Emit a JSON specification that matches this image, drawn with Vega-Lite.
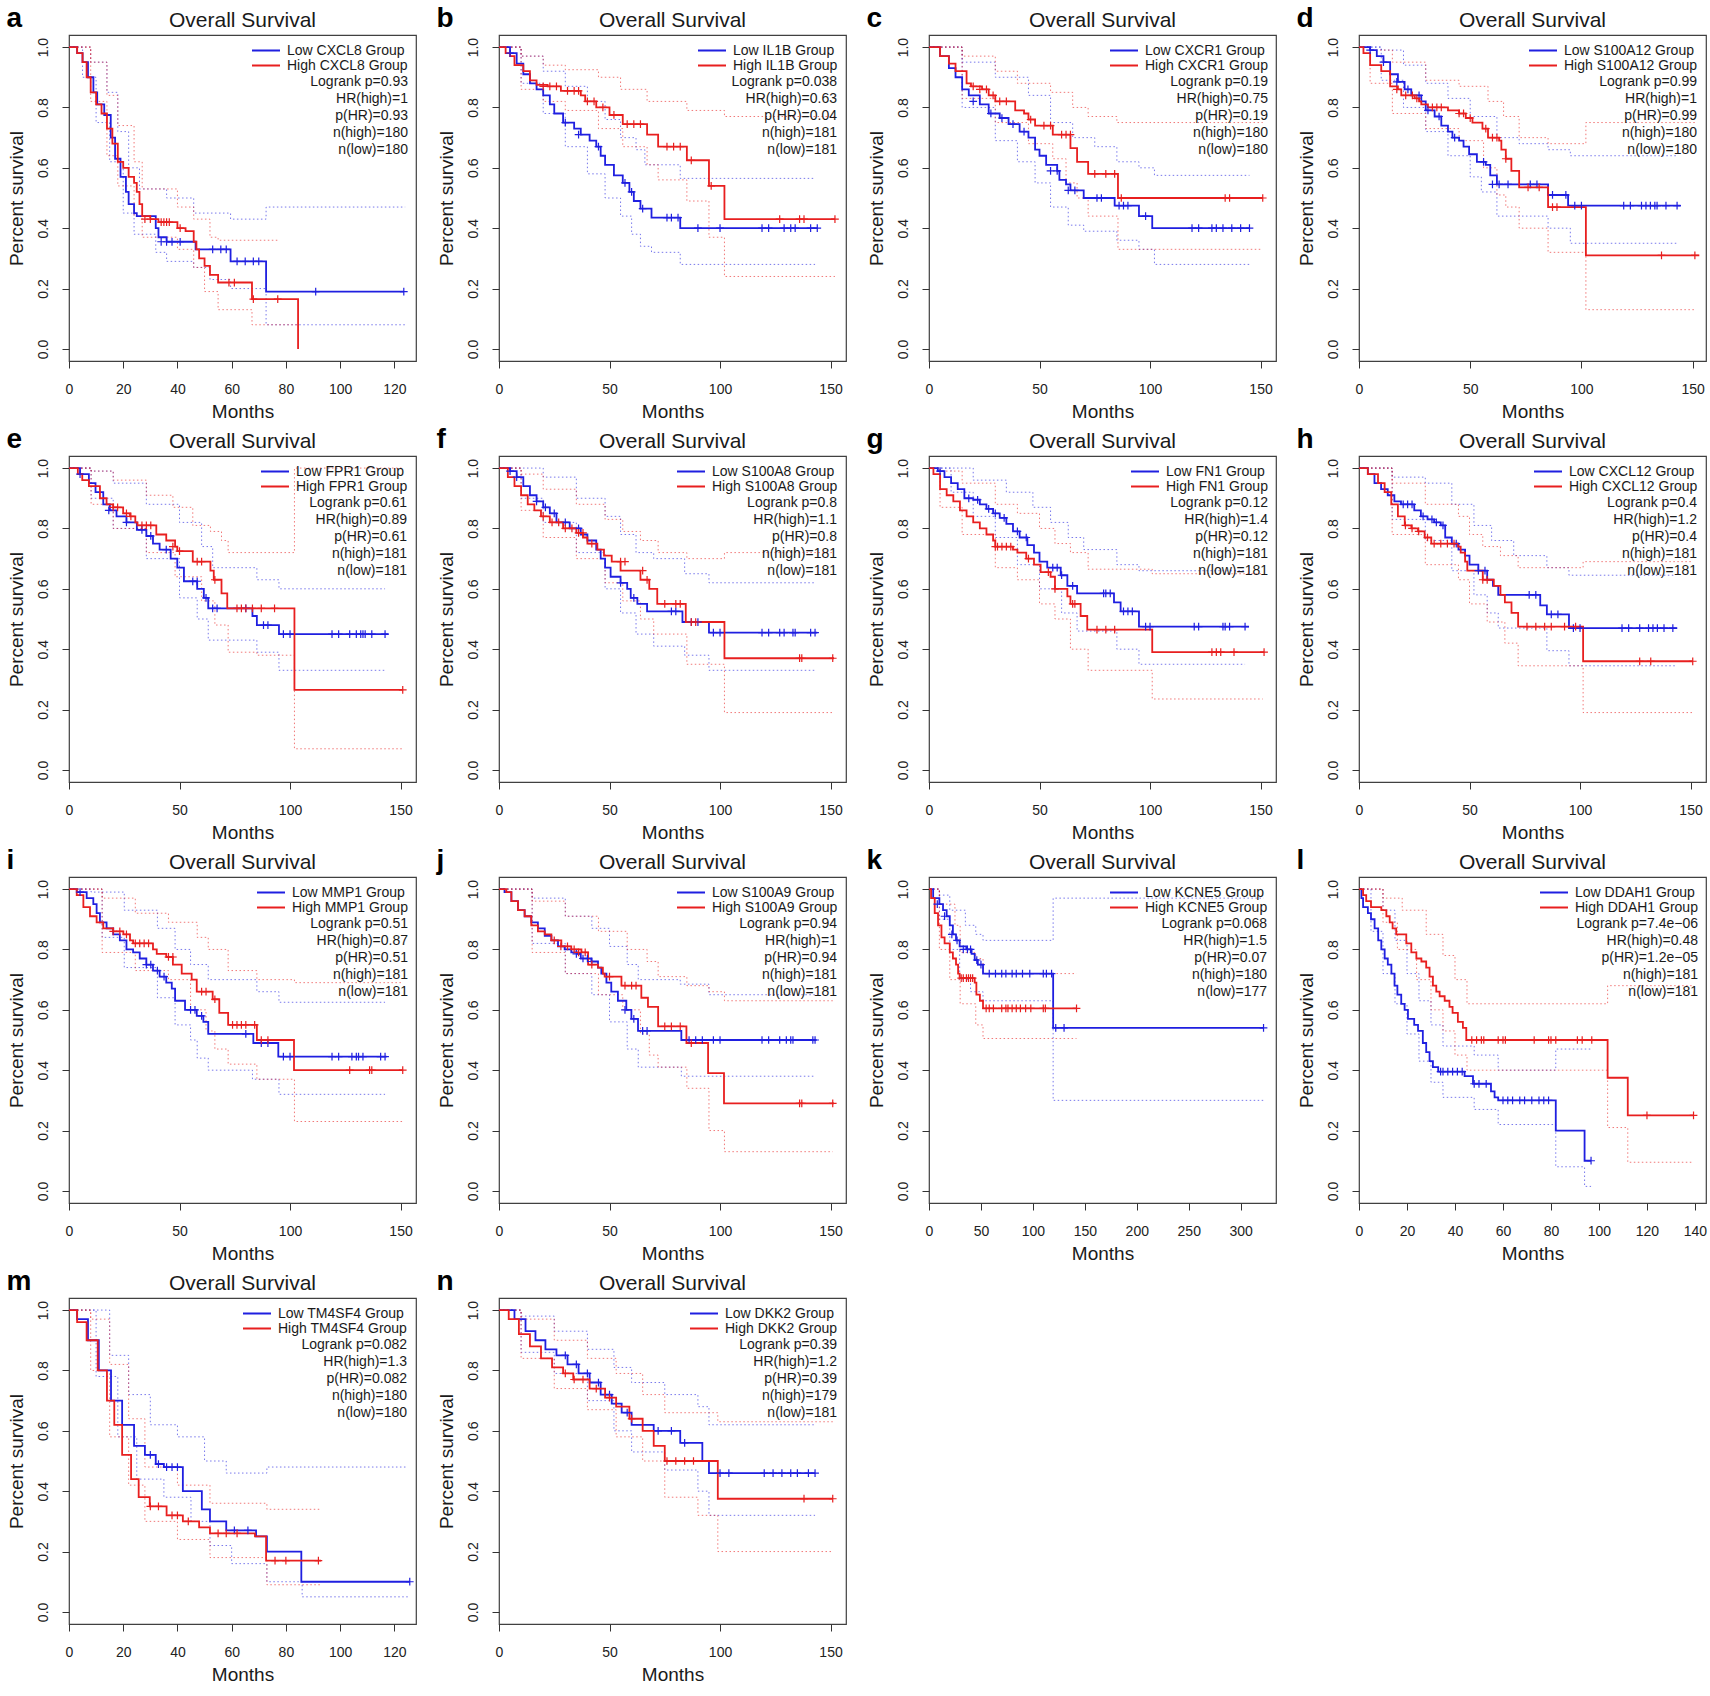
{
"$schema":"https://vega.github.io/schema/vega-lite/v6.json",
"padding":{"left":6,"top":5,"right":0,"bottom":0},
"background":"white",
"datasets":{
"a":[
{"g":"L","k":"m","t":0,"v":1},{"g":"L","k":"m","t":3,"v":0.98},{"g":"L","k":"m","t":5,"v":0.95},{"g":"L","k":"m","t":7,"v":0.9},{"g":"L","k":"m","t":9,"v":0.85},{"g":"L","k":"m","t":10.4,"v":0.81},{"g":"L","k":"m","t":13,"v":0.775},{"g":"L","k":"m","t":15.4,"v":0.7},{"g":"L","k":"m","t":17,"v":0.63},{"g":"L","k":"m","t":19,"v":0.57},{"g":"L","k":"m","t":21,"v":0.52},{"g":"L","k":"m","t":22,"v":0.48},{"g":"L","k":"m","t":24,"v":0.45},{"g":"L","k":"m","t":25,"v":0.44},{"g":"L","k":"m","t":32,"v":0.4},{"g":"L","k":"m","t":33,"v":0.37},{"g":"L","k":"m","t":36,"v":0.355},{"g":"L","k":"m","t":46.7,"v":0.33},{"g":"L","k":"m","t":59.6,"v":0.29},{"g":"L","k":"m","t":72.7,"v":0.19},{"g":"L","k":"m","t":123.5,"v":0.19},
{"g":"H","k":"m","t":0,"v":1},{"g":"H","k":"m","t":3,"v":0.98},{"g":"H","k":"m","t":5,"v":0.95},{"g":"H","k":"m","t":6.5,"v":0.9},{"g":"H","k":"m","t":8,"v":0.85},{"g":"H","k":"m","t":10,"v":0.81},{"g":"H","k":"m","t":12,"v":0.78},{"g":"H","k":"m","t":14,"v":0.73},{"g":"H","k":"m","t":16,"v":0.68},{"g":"H","k":"m","t":18,"v":0.62},{"g":"H","k":"m","t":20,"v":0.6},{"g":"H","k":"m","t":22,"v":0.57},{"g":"H","k":"m","t":24,"v":0.55},{"g":"H","k":"m","t":25,"v":0.52},{"g":"H","k":"m","t":26,"v":0.48},{"g":"H","k":"m","t":27,"v":0.44},{"g":"H","k":"m","t":30,"v":0.43},{"g":"H","k":"m","t":33,"v":0.42},{"g":"H","k":"m","t":40,"v":0.4},{"g":"H","k":"m","t":43,"v":0.39},{"g":"H","k":"m","t":46,"v":0.355},{"g":"H","k":"m","t":47,"v":0.33},{"g":"H","k":"m","t":48,"v":0.3},{"g":"H","k":"m","t":50,"v":0.275},{"g":"H","k":"m","t":52,"v":0.245},{"g":"H","k":"m","t":55,"v":0.22},{"g":"H","k":"m","t":67.5,"v":0.165},{"g":"H","k":"m","t":84.5,"v":0},
{"g":"L","k":"u","t":0,"v":1},{"g":"L","k":"u","t":8,"v":0.95},{"g":"L","k":"u","t":14,"v":0.85},{"g":"L","k":"u","t":18,"v":0.72},{"g":"L","k":"u","t":22,"v":0.6},{"g":"L","k":"u","t":26,"v":0.53},{"g":"L","k":"u","t":36,"v":0.5},{"g":"L","k":"u","t":46,"v":0.45},{"g":"L","k":"u","t":59.6,"v":0.43},{"g":"L","k":"u","t":72.7,"v":0.47},{"g":"L","k":"u","t":124,"v":0.47},
{"g":"L","k":"l","t":0,"v":1},{"g":"L","k":"l","t":5,"v":0.9},{"g":"L","k":"l","t":10,"v":0.75},{"g":"L","k":"l","t":15,"v":0.62},{"g":"L","k":"l","t":20,"v":0.45},{"g":"L","k":"l","t":24,"v":0.38},{"g":"L","k":"l","t":32,"v":0.32},{"g":"L","k":"l","t":36,"v":0.29},{"g":"L","k":"l","t":46,"v":0.27},{"g":"L","k":"l","t":52,"v":0.23},{"g":"L","k":"l","t":59.6,"v":0.2},{"g":"L","k":"l","t":72.7,"v":0.08},{"g":"L","k":"l","t":124,"v":0.08},
{"g":"H","k":"u","t":0,"v":1},{"g":"H","k":"u","t":8,"v":0.95},{"g":"H","k":"u","t":14,"v":0.84},{"g":"H","k":"u","t":18,"v":0.74},{"g":"H","k":"u","t":24,"v":0.62},{"g":"H","k":"u","t":27,"v":0.53},{"g":"H","k":"u","t":40,"v":0.47},{"g":"H","k":"u","t":46,"v":0.43},{"g":"H","k":"u","t":52,"v":0.37},{"g":"H","k":"u","t":55,"v":0.36},{"g":"H","k":"u","t":77,"v":0.36},
{"g":"H","k":"l","t":0,"v":1},{"g":"H","k":"l","t":8,"v":0.82},{"g":"H","k":"l","t":14,"v":0.64},{"g":"H","k":"l","t":18,"v":0.54},{"g":"H","k":"l","t":24,"v":0.44},{"g":"H","k":"l","t":27,"v":0.37},{"g":"H","k":"l","t":40,"v":0.33},{"g":"H","k":"l","t":46,"v":0.27},{"g":"H","k":"l","t":50,"v":0.19},{"g":"H","k":"l","t":55,"v":0.13},{"g":"H","k":"l","t":67.5,"v":0.08},{"g":"H","k":"l","t":84.5,"v":0.08},
{"g":"L","k":"c","t":34,"v":0.355},{"g":"L","k":"c","t":36,"v":0.355},{"g":"L","k":"c","t":38,"v":0.355},{"g":"L","k":"c","t":41,"v":0.355},{"g":"L","k":"c","t":53,"v":0.33},{"g":"L","k":"c","t":56,"v":0.33},{"g":"L","k":"c","t":58,"v":0.33},{"g":"L","k":"c","t":62,"v":0.29},{"g":"L","k":"c","t":65,"v":0.29},{"g":"L","k":"c","t":68,"v":0.29},{"g":"L","k":"c","t":70,"v":0.29},{"g":"L","k":"c","t":91,"v":0.19},{"g":"L","k":"c","t":123.5,"v":0.19},
{"g":"H","k":"c","t":28,"v":0.43},{"g":"H","k":"c","t":30,"v":0.43},{"g":"H","k":"c","t":34,"v":0.42},{"g":"H","k":"c","t":35,"v":0.42},{"g":"H","k":"c","t":36,"v":0.42},{"g":"H","k":"c","t":37,"v":0.42},{"g":"H","k":"c","t":41,"v":0.4},{"g":"H","k":"c","t":59,"v":0.22},{"g":"H","k":"c","t":61,"v":0.22},{"g":"H","k":"c","t":68,"v":0.165},{"g":"H","k":"c","t":77,"v":0.165}
],
"b":[
{"g":"L","k":"m","t":0,"v":1},{"g":"L","k":"m","t":5,"v":0.98},{"g":"L","k":"m","t":8,"v":0.945},{"g":"L","k":"m","t":11,"v":0.91},{"g":"L","k":"m","t":14,"v":0.88},{"g":"L","k":"m","t":17,"v":0.86},{"g":"L","k":"m","t":20,"v":0.84},{"g":"L","k":"m","t":23,"v":0.81},{"g":"L","k":"m","t":25,"v":0.78},{"g":"L","k":"m","t":29,"v":0.75},{"g":"L","k":"m","t":34,"v":0.73},{"g":"L","k":"m","t":37,"v":0.71},{"g":"L","k":"m","t":41,"v":0.69},{"g":"L","k":"m","t":44,"v":0.67},{"g":"L","k":"m","t":46,"v":0.64},{"g":"L","k":"m","t":48,"v":0.61},{"g":"L","k":"m","t":52,"v":0.575},{"g":"L","k":"m","t":56,"v":0.55},{"g":"L","k":"m","t":59,"v":0.52},{"g":"L","k":"m","t":61,"v":0.49},{"g":"L","k":"m","t":64,"v":0.465},{"g":"L","k":"m","t":69,"v":0.435},{"g":"L","k":"m","t":82,"v":0.4},{"g":"L","k":"m","t":144,"v":0.4},
{"g":"H","k":"m","t":0,"v":1},{"g":"H","k":"m","t":3,"v":0.98},{"g":"H","k":"m","t":5,"v":0.97},{"g":"H","k":"m","t":7,"v":0.94},{"g":"H","k":"m","t":11,"v":0.92},{"g":"H","k":"m","t":14,"v":0.89},{"g":"H","k":"m","t":17,"v":0.875},{"g":"H","k":"m","t":22,"v":0.87},{"g":"H","k":"m","t":28,"v":0.855},{"g":"H","k":"m","t":37,"v":0.84},{"g":"H","k":"m","t":39,"v":0.82},{"g":"H","k":"m","t":44,"v":0.8},{"g":"H","k":"m","t":50,"v":0.775},{"g":"H","k":"m","t":56,"v":0.745},{"g":"H","k":"m","t":67,"v":0.71},{"g":"H","k":"m","t":72,"v":0.67},{"g":"H","k":"m","t":85,"v":0.625},{"g":"H","k":"m","t":95,"v":0.54},{"g":"H","k":"m","t":102,"v":0.43},{"g":"H","k":"m","t":152,"v":0.43},
{"g":"L","k":"u","t":0,"v":1},{"g":"L","k":"u","t":10,"v":0.97},{"g":"L","k":"u","t":20,"v":0.92},{"g":"L","k":"u","t":30,"v":0.87},{"g":"L","k":"u","t":40,"v":0.82},{"g":"L","k":"u","t":48,"v":0.76},{"g":"L","k":"u","t":55,"v":0.7},{"g":"L","k":"u","t":62,"v":0.66},{"g":"L","k":"u","t":66,"v":0.61},{"g":"L","k":"u","t":82,"v":0.565},{"g":"L","k":"u","t":143,"v":0.565},
{"g":"L","k":"l","t":0,"v":1},{"g":"L","k":"l","t":10,"v":0.88},{"g":"L","k":"l","t":20,"v":0.78},{"g":"L","k":"l","t":30,"v":0.67},{"g":"L","k":"l","t":40,"v":0.58},{"g":"L","k":"l","t":48,"v":0.5},{"g":"L","k":"l","t":55,"v":0.44},{"g":"L","k":"l","t":60,"v":0.38},{"g":"L","k":"l","t":64,"v":0.34},{"g":"L","k":"l","t":69,"v":0.32},{"g":"L","k":"l","t":82,"v":0.28},{"g":"L","k":"l","t":143,"v":0.28},
{"g":"H","k":"u","t":0,"v":1},{"g":"H","k":"u","t":10,"v":0.97},{"g":"H","k":"u","t":20,"v":0.94},{"g":"H","k":"u","t":30,"v":0.925},{"g":"H","k":"u","t":45,"v":0.9},{"g":"H","k":"u","t":55,"v":0.86},{"g":"H","k":"u","t":67,"v":0.82},{"g":"H","k":"u","t":85,"v":0.79},{"g":"H","k":"u","t":102,"v":0.77},{"g":"H","k":"u","t":152,"v":0.77},
{"g":"H","k":"l","t":0,"v":1},{"g":"H","k":"l","t":10,"v":0.86},{"g":"H","k":"l","t":20,"v":0.82},{"g":"H","k":"l","t":30,"v":0.79},{"g":"H","k":"l","t":45,"v":0.73},{"g":"H","k":"l","t":56,"v":0.67},{"g":"H","k":"l","t":67,"v":0.61},{"g":"H","k":"l","t":72,"v":0.56},{"g":"H","k":"l","t":85,"v":0.49},{"g":"H","k":"l","t":95,"v":0.37},{"g":"H","k":"l","t":102,"v":0.24},{"g":"H","k":"l","t":152,"v":0.24},
{"g":"L","k":"c","t":5,"v":0.98},{"g":"L","k":"c","t":30,"v":0.75},{"g":"L","k":"c","t":36,"v":0.71},{"g":"L","k":"c","t":45,"v":0.67},{"g":"L","k":"c","t":57,"v":0.55},{"g":"L","k":"c","t":60,"v":0.52},{"g":"L","k":"c","t":65,"v":0.465},{"g":"L","k":"c","t":76,"v":0.435},{"g":"L","k":"c","t":78,"v":0.435},{"g":"L","k":"c","t":81,"v":0.435},{"g":"L","k":"c","t":90,"v":0.4},{"g":"L","k":"c","t":100,"v":0.4},{"g":"L","k":"c","t":119,"v":0.4},{"g":"L","k":"c","t":122,"v":0.4},{"g":"L","k":"c","t":129,"v":0.4},{"g":"L","k":"c","t":132,"v":0.4},{"g":"L","k":"c","t":134,"v":0.4},{"g":"L","k":"c","t":141,"v":0.4},{"g":"L","k":"c","t":144,"v":0.4},
{"g":"H","k":"c","t":20,"v":0.87},{"g":"H","k":"c","t":23,"v":0.87},{"g":"H","k":"c","t":26,"v":0.87},{"g":"H","k":"c","t":31,"v":0.855},{"g":"H","k":"c","t":34,"v":0.855},{"g":"H","k":"c","t":36,"v":0.855},{"g":"H","k":"c","t":40,"v":0.82},{"g":"H","k":"c","t":43,"v":0.82},{"g":"H","k":"c","t":47,"v":0.8},{"g":"H","k":"c","t":52,"v":0.775},{"g":"H","k":"c","t":58,"v":0.745},{"g":"H","k":"c","t":61,"v":0.745},{"g":"H","k":"c","t":64,"v":0.745},{"g":"H","k":"c","t":76,"v":0.67},{"g":"H","k":"c","t":79,"v":0.67},{"g":"H","k":"c","t":82,"v":0.67},{"g":"H","k":"c","t":87,"v":0.625},{"g":"H","k":"c","t":96,"v":0.54},{"g":"H","k":"c","t":127,"v":0.43},{"g":"H","k":"c","t":136,"v":0.43},{"g":"H","k":"c","t":138,"v":0.43},{"g":"H","k":"c","t":152,"v":0.43}
],
"c":[
{"g":"L","k":"m","t":0,"v":1},{"g":"L","k":"m","t":5,"v":0.97},{"g":"L","k":"m","t":9,"v":0.93},{"g":"L","k":"m","t":12,"v":0.9},{"g":"L","k":"m","t":15,"v":0.86},{"g":"L","k":"m","t":18,"v":0.84},{"g":"L","k":"m","t":23,"v":0.81},{"g":"L","k":"m","t":27,"v":0.78},{"g":"L","k":"m","t":32,"v":0.765},{"g":"L","k":"m","t":36,"v":0.745},{"g":"L","k":"m","t":41,"v":0.72},{"g":"L","k":"m","t":45,"v":0.7},{"g":"L","k":"m","t":48,"v":0.66},{"g":"L","k":"m","t":50,"v":0.64},{"g":"L","k":"m","t":53,"v":0.61},{"g":"L","k":"m","t":58,"v":0.59},{"g":"L","k":"m","t":59,"v":0.56},{"g":"L","k":"m","t":62,"v":0.545},{"g":"L","k":"m","t":64,"v":0.525},{"g":"L","k":"m","t":70,"v":0.5},{"g":"L","k":"m","t":84,"v":0.475},{"g":"L","k":"m","t":95,"v":0.44},{"g":"L","k":"m","t":101,"v":0.4},{"g":"L","k":"m","t":145,"v":0.4},
{"g":"H","k":"m","t":0,"v":1},{"g":"H","k":"m","t":5,"v":0.97},{"g":"H","k":"m","t":9,"v":0.945},{"g":"H","k":"m","t":12,"v":0.92},{"g":"H","k":"m","t":17,"v":0.88},{"g":"H","k":"m","t":19,"v":0.87},{"g":"H","k":"m","t":24,"v":0.86},{"g":"H","k":"m","t":27,"v":0.84},{"g":"H","k":"m","t":30,"v":0.82},{"g":"H","k":"m","t":39,"v":0.79},{"g":"H","k":"m","t":43,"v":0.78},{"g":"H","k":"m","t":45,"v":0.76},{"g":"H","k":"m","t":48,"v":0.74},{"g":"H","k":"m","t":56,"v":0.71},{"g":"H","k":"m","t":64,"v":0.665},{"g":"H","k":"m","t":67,"v":0.62},{"g":"H","k":"m","t":72,"v":0.58},{"g":"H","k":"m","t":85.5,"v":0.5},{"g":"H","k":"m","t":151,"v":0.5},
{"g":"L","k":"u","t":0,"v":1},{"g":"L","k":"u","t":15,"v":0.95},{"g":"L","k":"u","t":30,"v":0.9},{"g":"L","k":"u","t":45,"v":0.84},{"g":"L","k":"u","t":55,"v":0.75},{"g":"L","k":"u","t":65,"v":0.7},{"g":"L","k":"u","t":75,"v":0.67},{"g":"L","k":"u","t":85,"v":0.62},{"g":"L","k":"u","t":95,"v":0.6},{"g":"L","k":"u","t":102,"v":0.575},{"g":"L","k":"u","t":145,"v":0.575},
{"g":"L","k":"l","t":0,"v":1},{"g":"L","k":"l","t":15,"v":0.8},{"g":"L","k":"l","t":30,"v":0.69},{"g":"L","k":"l","t":40,"v":0.62},{"g":"L","k":"l","t":48,"v":0.55},{"g":"L","k":"l","t":55,"v":0.47},{"g":"L","k":"l","t":63,"v":0.41},{"g":"L","k":"l","t":70,"v":0.39},{"g":"L","k":"l","t":85,"v":0.36},{"g":"L","k":"l","t":95,"v":0.33},{"g":"L","k":"l","t":102,"v":0.28},{"g":"L","k":"l","t":145,"v":0.28},
{"g":"H","k":"u","t":0,"v":1},{"g":"H","k":"u","t":15,"v":0.97},{"g":"H","k":"u","t":30,"v":0.92},{"g":"H","k":"u","t":40,"v":0.88},{"g":"H","k":"u","t":55,"v":0.85},{"g":"H","k":"u","t":65,"v":0.8},{"g":"H","k":"u","t":72,"v":0.77},{"g":"H","k":"u","t":85,"v":0.75},{"g":"H","k":"u","t":151,"v":0.75},
{"g":"H","k":"l","t":0,"v":1},{"g":"H","k":"l","t":15,"v":0.83},{"g":"H","k":"l","t":30,"v":0.75},{"g":"H","k":"l","t":45,"v":0.68},{"g":"H","k":"l","t":56,"v":0.63},{"g":"H","k":"l","t":62,"v":0.55},{"g":"H","k":"l","t":67,"v":0.5},{"g":"H","k":"l","t":72,"v":0.44},{"g":"H","k":"l","t":85.5,"v":0.33},{"g":"H","k":"l","t":151,"v":0.33},
{"g":"L","k":"c","t":20,"v":0.82},{"g":"L","k":"c","t":28,"v":0.78},{"g":"L","k":"c","t":33,"v":0.765},{"g":"L","k":"c","t":38,"v":0.745},{"g":"L","k":"c","t":43,"v":0.72},{"g":"L","k":"c","t":55,"v":0.59},{"g":"L","k":"c","t":58,"v":0.59},{"g":"L","k":"c","t":63,"v":0.525},{"g":"L","k":"c","t":66,"v":0.525},{"g":"L","k":"c","t":76,"v":0.5},{"g":"L","k":"c","t":78,"v":0.5},{"g":"L","k":"c","t":86,"v":0.475},{"g":"L","k":"c","t":88,"v":0.475},{"g":"L","k":"c","t":90,"v":0.475},{"g":"L","k":"c","t":98,"v":0.44},{"g":"L","k":"c","t":119,"v":0.4},{"g":"L","k":"c","t":122,"v":0.4},{"g":"L","k":"c","t":128,"v":0.4},{"g":"L","k":"c","t":130,"v":0.4},{"g":"L","k":"c","t":133,"v":0.4},{"g":"L","k":"c","t":137,"v":0.4},{"g":"L","k":"c","t":141,"v":0.4},{"g":"L","k":"c","t":145,"v":0.4},
{"g":"H","k":"c","t":20,"v":0.87},{"g":"H","k":"c","t":23,"v":0.86},{"g":"H","k":"c","t":26,"v":0.86},{"g":"H","k":"c","t":29,"v":0.84},{"g":"H","k":"c","t":32,"v":0.82},{"g":"H","k":"c","t":35,"v":0.82},{"g":"H","k":"c","t":46,"v":0.76},{"g":"H","k":"c","t":52,"v":0.74},{"g":"H","k":"c","t":55,"v":0.74},{"g":"H","k":"c","t":60,"v":0.71},{"g":"H","k":"c","t":62,"v":0.71},{"g":"H","k":"c","t":64,"v":0.71},{"g":"H","k":"c","t":75,"v":0.58},{"g":"H","k":"c","t":80,"v":0.58},{"g":"H","k":"c","t":84,"v":0.58},{"g":"H","k":"c","t":87,"v":0.5},{"g":"H","k":"c","t":134,"v":0.5},{"g":"H","k":"c","t":136,"v":0.5},{"g":"H","k":"c","t":151,"v":0.5}
],
"d":[
{"g":"L","k":"m","t":0,"v":1},{"g":"L","k":"m","t":5,"v":0.99},{"g":"L","k":"m","t":8,"v":0.97},{"g":"L","k":"m","t":11,"v":0.95},{"g":"L","k":"m","t":14,"v":0.91},{"g":"L","k":"m","t":17.5,"v":0.885},{"g":"L","k":"m","t":20.5,"v":0.86},{"g":"L","k":"m","t":23.5,"v":0.84},{"g":"L","k":"m","t":28,"v":0.82},{"g":"L","k":"m","t":30,"v":0.79},{"g":"L","k":"m","t":34,"v":0.77},{"g":"L","k":"m","t":37,"v":0.74},{"g":"L","k":"m","t":40,"v":0.72},{"g":"L","k":"m","t":42,"v":0.7},{"g":"L","k":"m","t":45,"v":0.69},{"g":"L","k":"m","t":47,"v":0.67},{"g":"L","k":"m","t":49.5,"v":0.645},{"g":"L","k":"m","t":53,"v":0.62},{"g":"L","k":"m","t":57,"v":0.61},{"g":"L","k":"m","t":59,"v":0.575},{"g":"L","k":"m","t":62,"v":0.545},{"g":"L","k":"m","t":85,"v":0.51},{"g":"L","k":"m","t":94,"v":0.475},{"g":"L","k":"m","t":144.6,"v":0.475},
{"g":"H","k":"m","t":0,"v":1},{"g":"H","k":"m","t":2,"v":0.98},{"g":"H","k":"m","t":5,"v":0.94},{"g":"H","k":"m","t":10,"v":0.92},{"g":"H","k":"m","t":14,"v":0.87},{"g":"H","k":"m","t":17.5,"v":0.86},{"g":"H","k":"m","t":19,"v":0.84},{"g":"H","k":"m","t":25,"v":0.83},{"g":"H","k":"m","t":27,"v":0.82},{"g":"H","k":"m","t":28,"v":0.81},{"g":"H","k":"m","t":31,"v":0.8},{"g":"H","k":"m","t":40,"v":0.79},{"g":"H","k":"m","t":45,"v":0.78},{"g":"H","k":"m","t":48,"v":0.765},{"g":"H","k":"m","t":51,"v":0.75},{"g":"H","k":"m","t":55.5,"v":0.73},{"g":"H","k":"m","t":58,"v":0.7},{"g":"H","k":"m","t":63,"v":0.69},{"g":"H","k":"m","t":64,"v":0.66},{"g":"H","k":"m","t":66,"v":0.63},{"g":"H","k":"m","t":68.5,"v":0.59},{"g":"H","k":"m","t":72,"v":0.535},{"g":"H","k":"m","t":85,"v":0.47},{"g":"H","k":"m","t":102,"v":0.31},{"g":"H","k":"m","t":153,"v":0.31},
{"g":"L","k":"u","t":0,"v":1},{"g":"L","k":"u","t":10,"v":0.99},{"g":"L","k":"u","t":20,"v":0.94},{"g":"L","k":"u","t":30,"v":0.88},{"g":"L","k":"u","t":40,"v":0.83},{"g":"L","k":"u","t":50,"v":0.77},{"g":"L","k":"u","t":62,"v":0.7},{"g":"L","k":"u","t":72,"v":0.68},{"g":"L","k":"u","t":85,"v":0.66},{"g":"L","k":"u","t":95,"v":0.64},{"g":"L","k":"u","t":143,"v":0.64},
{"g":"L","k":"l","t":0,"v":1},{"g":"L","k":"l","t":10,"v":0.89},{"g":"L","k":"l","t":20,"v":0.8},{"g":"L","k":"l","t":30,"v":0.72},{"g":"L","k":"l","t":40,"v":0.64},{"g":"L","k":"l","t":50,"v":0.57},{"g":"L","k":"l","t":55,"v":0.52},{"g":"L","k":"l","t":62,"v":0.44},{"g":"L","k":"l","t":85,"v":0.4},{"g":"L","k":"l","t":95,"v":0.35},{"g":"L","k":"l","t":143,"v":0.35},
{"g":"H","k":"u","t":0,"v":1},{"g":"H","k":"u","t":5,"v":0.99},{"g":"H","k":"u","t":15,"v":0.95},{"g":"H","k":"u","t":30,"v":0.89},{"g":"H","k":"u","t":45,"v":0.87},{"g":"H","k":"u","t":58,"v":0.82},{"g":"H","k":"u","t":65,"v":0.77},{"g":"H","k":"u","t":72,"v":0.7},{"g":"H","k":"u","t":85,"v":0.68},{"g":"H","k":"u","t":102,"v":0.75},{"g":"H","k":"u","t":151,"v":0.75},
{"g":"H","k":"l","t":0,"v":1},{"g":"H","k":"l","t":5,"v":0.88},{"g":"H","k":"l","t":15,"v":0.78},{"g":"H","k":"l","t":30,"v":0.73},{"g":"H","k":"l","t":45,"v":0.69},{"g":"H","k":"l","t":56,"v":0.6},{"g":"H","k":"l","t":62,"v":0.51},{"g":"H","k":"l","t":66,"v":0.47},{"g":"H","k":"l","t":72,"v":0.4},{"g":"H","k":"l","t":85,"v":0.32},{"g":"H","k":"l","t":102,"v":0.13},{"g":"H","k":"l","t":151,"v":0.13},
{"g":"L","k":"c","t":5,"v":0.99},{"g":"L","k":"c","t":11,"v":0.95},{"g":"L","k":"c","t":17,"v":0.885},{"g":"L","k":"c","t":22,"v":0.86},{"g":"L","k":"c","t":27,"v":0.84},{"g":"L","k":"c","t":31,"v":0.79},{"g":"L","k":"c","t":36,"v":0.77},{"g":"L","k":"c","t":43,"v":0.7},{"g":"L","k":"c","t":56,"v":0.62},{"g":"L","k":"c","t":60,"v":0.545},{"g":"L","k":"c","t":63,"v":0.545},{"g":"L","k":"c","t":67,"v":0.545},{"g":"L","k":"c","t":77,"v":0.545},{"g":"L","k":"c","t":80,"v":0.545},{"g":"L","k":"c","t":87,"v":0.51},{"g":"L","k":"c","t":93,"v":0.51},{"g":"L","k":"c","t":97,"v":0.475},{"g":"L","k":"c","t":100,"v":0.475},{"g":"L","k":"c","t":119,"v":0.475},{"g":"L","k":"c","t":122,"v":0.475},{"g":"L","k":"c","t":127,"v":0.475},{"g":"L","k":"c","t":129,"v":0.475},{"g":"L","k":"c","t":131,"v":0.475},{"g":"L","k":"c","t":133,"v":0.475},{"g":"L","k":"c","t":134,"v":0.475},{"g":"L","k":"c","t":138,"v":0.475},{"g":"L","k":"c","t":143,"v":0.475},
{"g":"H","k":"c","t":17,"v":0.86},{"g":"H","k":"c","t":21,"v":0.84},{"g":"H","k":"c","t":24,"v":0.84},{"g":"H","k":"c","t":26,"v":0.83},{"g":"H","k":"c","t":33,"v":0.8},{"g":"H","k":"c","t":35,"v":0.8},{"g":"H","k":"c","t":37,"v":0.8},{"g":"H","k":"c","t":45,"v":0.78},{"g":"H","k":"c","t":47,"v":0.78},{"g":"H","k":"c","t":50,"v":0.765},{"g":"H","k":"c","t":57,"v":0.73},{"g":"H","k":"c","t":60,"v":0.7},{"g":"H","k":"c","t":62,"v":0.7},{"g":"H","k":"c","t":66,"v":0.63},{"g":"H","k":"c","t":76,"v":0.535},{"g":"H","k":"c","t":81,"v":0.535},{"g":"H","k":"c","t":87,"v":0.47},{"g":"H","k":"c","t":89,"v":0.47},{"g":"H","k":"c","t":136,"v":0.31},{"g":"H","k":"c","t":151,"v":0.31}
],
"e":[
{"g":"L","k":"m","t":0,"v":1},{"g":"L","k":"m","t":5,"v":0.98},{"g":"L","k":"m","t":9,"v":0.95},{"g":"L","k":"m","t":12,"v":0.92},{"g":"L","k":"m","t":15.5,"v":0.88},{"g":"L","k":"m","t":18.5,"v":0.86},{"g":"L","k":"m","t":21.5,"v":0.84},{"g":"L","k":"m","t":26,"v":0.82},{"g":"L","k":"m","t":30.7,"v":0.795},{"g":"L","k":"m","t":35,"v":0.775},{"g":"L","k":"m","t":38,"v":0.75},{"g":"L","k":"m","t":41,"v":0.73},{"g":"L","k":"m","t":46,"v":0.7},{"g":"L","k":"m","t":49,"v":0.67},{"g":"L","k":"m","t":52,"v":0.625},{"g":"L","k":"m","t":58,"v":0.6},{"g":"L","k":"m","t":61,"v":0.57},{"g":"L","k":"m","t":63,"v":0.535},{"g":"L","k":"m","t":83,"v":0.51},{"g":"L","k":"m","t":85,"v":0.48},{"g":"L","k":"m","t":95,"v":0.45},{"g":"L","k":"m","t":144.5,"v":0.45},
{"g":"H","k":"m","t":0,"v":1},{"g":"H","k":"m","t":4,"v":0.98},{"g":"H","k":"m","t":6,"v":0.96},{"g":"H","k":"m","t":9,"v":0.94},{"g":"H","k":"m","t":14,"v":0.9},{"g":"H","k":"m","t":17,"v":0.88},{"g":"H","k":"m","t":20,"v":0.87},{"g":"H","k":"m","t":24.5,"v":0.85},{"g":"H","k":"m","t":27.6,"v":0.84},{"g":"H","k":"m","t":30,"v":0.82},{"g":"H","k":"m","t":31,"v":0.81},{"g":"H","k":"m","t":39.5,"v":0.78},{"g":"H","k":"m","t":44,"v":0.76},{"g":"H","k":"m","t":48,"v":0.74},{"g":"H","k":"m","t":49,"v":0.725},{"g":"H","k":"m","t":56,"v":0.69},{"g":"H","k":"m","t":64,"v":0.66},{"g":"H","k":"m","t":65.5,"v":0.63},{"g":"H","k":"m","t":69,"v":0.585},{"g":"H","k":"m","t":71.6,"v":0.535},{"g":"H","k":"m","t":102,"v":0.265},{"g":"H","k":"m","t":151,"v":0.265},
{"g":"L","k":"u","t":0,"v":1},{"g":"L","k":"u","t":10,"v":0.99},{"g":"L","k":"u","t":20,"v":0.95},{"g":"L","k":"u","t":35,"v":0.88},{"g":"L","k":"u","t":50,"v":0.82},{"g":"L","k":"u","t":60,"v":0.74},{"g":"L","k":"u","t":65,"v":0.67},{"g":"L","k":"u","t":85,"v":0.63},{"g":"L","k":"u","t":95,"v":0.6},{"g":"L","k":"u","t":143,"v":0.6},
{"g":"L","k":"l","t":0,"v":1},{"g":"L","k":"l","t":10,"v":0.9},{"g":"L","k":"l","t":20,"v":0.8},{"g":"L","k":"l","t":35,"v":0.7},{"g":"L","k":"l","t":50,"v":0.57},{"g":"L","k":"l","t":58,"v":0.5},{"g":"L","k":"l","t":63,"v":0.43},{"g":"L","k":"l","t":85,"v":0.39},{"g":"L","k":"l","t":95,"v":0.33},{"g":"L","k":"l","t":143,"v":0.33},
{"g":"H","k":"u","t":0,"v":1},{"g":"H","k":"u","t":10,"v":0.99},{"g":"H","k":"u","t":20,"v":0.96},{"g":"H","k":"u","t":35,"v":0.91},{"g":"H","k":"u","t":47,"v":0.87},{"g":"H","k":"u","t":56,"v":0.81},{"g":"H","k":"u","t":64,"v":0.79},{"g":"H","k":"u","t":69,"v":0.76},{"g":"H","k":"u","t":72,"v":0.72},{"g":"H","k":"u","t":102,"v":1},{"g":"H","k":"u","t":151,"v":1},
{"g":"H","k":"l","t":0,"v":1},{"g":"H","k":"l","t":10,"v":0.88},{"g":"H","k":"l","t":20,"v":0.8},{"g":"H","k":"l","t":35,"v":0.72},{"g":"H","k":"l","t":48,"v":0.64},{"g":"H","k":"l","t":60,"v":0.56},{"g":"H","k":"l","t":66,"v":0.48},{"g":"H","k":"l","t":72,"v":0.39},{"g":"H","k":"l","t":85,"v":0.38},{"g":"H","k":"l","t":102,"v":0.07},{"g":"H","k":"l","t":151,"v":0.07},
{"g":"L","k":"c","t":5,"v":0.98},{"g":"L","k":"c","t":18,"v":0.86},{"g":"L","k":"c","t":26,"v":0.82},{"g":"L","k":"c","t":33,"v":0.795},{"g":"L","k":"c","t":37,"v":0.775},{"g":"L","k":"c","t":44,"v":0.73},{"g":"L","k":"c","t":56,"v":0.625},{"g":"L","k":"c","t":58,"v":0.625},{"g":"L","k":"c","t":62,"v":0.57},{"g":"L","k":"c","t":65,"v":0.535},{"g":"L","k":"c","t":67,"v":0.535},{"g":"L","k":"c","t":80,"v":0.535},{"g":"L","k":"c","t":88,"v":0.48},{"g":"L","k":"c","t":90,"v":0.48},{"g":"L","k":"c","t":97,"v":0.45},{"g":"L","k":"c","t":100,"v":0.45},{"g":"L","k":"c","t":119,"v":0.45},{"g":"L","k":"c","t":122,"v":0.45},{"g":"L","k":"c","t":127,"v":0.45},{"g":"L","k":"c","t":130,"v":0.45},{"g":"L","k":"c","t":132,"v":0.45},{"g":"L","k":"c","t":133,"v":0.45},{"g":"L","k":"c","t":134,"v":0.45},{"g":"L","k":"c","t":137,"v":0.45},{"g":"L","k":"c","t":143,"v":0.45},
{"g":"H","k":"c","t":20,"v":0.87},{"g":"H","k":"c","t":22,"v":0.87},{"g":"H","k":"c","t":26,"v":0.85},{"g":"H","k":"c","t":28,"v":0.84},{"g":"H","k":"c","t":33,"v":0.81},{"g":"H","k":"c","t":35,"v":0.81},{"g":"H","k":"c","t":37,"v":0.81},{"g":"H","k":"c","t":47,"v":0.74},{"g":"H","k":"c","t":50,"v":0.725},{"g":"H","k":"c","t":58,"v":0.69},{"g":"H","k":"c","t":60,"v":0.69},{"g":"H","k":"c","t":66,"v":0.63},{"g":"H","k":"c","t":76,"v":0.535},{"g":"H","k":"c","t":78,"v":0.535},{"g":"H","k":"c","t":80,"v":0.535},{"g":"H","k":"c","t":83,"v":0.535},{"g":"H","k":"c","t":87,"v":0.535},{"g":"H","k":"c","t":93,"v":0.535},{"g":"H","k":"c","t":151,"v":0.265}
],
"f":[
{"g":"L","k":"m","t":0,"v":1},{"g":"L","k":"m","t":5,"v":0.99},{"g":"L","k":"m","t":8,"v":0.97},{"g":"L","k":"m","t":11,"v":0.94},{"g":"L","k":"m","t":14,"v":0.91},{"g":"L","k":"m","t":17,"v":0.89},{"g":"L","k":"m","t":20,"v":0.87},{"g":"L","k":"m","t":23,"v":0.85},{"g":"L","k":"m","t":26,"v":0.82},{"g":"L","k":"m","t":32,"v":0.8},{"g":"L","k":"m","t":37,"v":0.78},{"g":"L","k":"m","t":40,"v":0.76},{"g":"L","k":"m","t":44,"v":0.73},{"g":"L","k":"m","t":46,"v":0.7},{"g":"L","k":"m","t":48,"v":0.67},{"g":"L","k":"m","t":50.5,"v":0.64},{"g":"L","k":"m","t":55,"v":0.62},{"g":"L","k":"m","t":58,"v":0.6},{"g":"L","k":"m","t":59.6,"v":0.57},{"g":"L","k":"m","t":62.6,"v":0.55},{"g":"L","k":"m","t":67,"v":0.525},{"g":"L","k":"m","t":83,"v":0.49},{"g":"L","k":"m","t":95,"v":0.455},{"g":"L","k":"m","t":144,"v":0.455},
{"g":"H","k":"m","t":0,"v":1},{"g":"H","k":"m","t":4,"v":0.97},{"g":"H","k":"m","t":7,"v":0.94},{"g":"H","k":"m","t":10,"v":0.91},{"g":"H","k":"m","t":13,"v":0.88},{"g":"H","k":"m","t":16,"v":0.86},{"g":"H","k":"m","t":19,"v":0.84},{"g":"H","k":"m","t":23,"v":0.82},{"g":"H","k":"m","t":29,"v":0.8},{"g":"H","k":"m","t":35,"v":0.785},{"g":"H","k":"m","t":38,"v":0.77},{"g":"H","k":"m","t":40,"v":0.75},{"g":"H","k":"m","t":44.5,"v":0.73},{"g":"H","k":"m","t":47.5,"v":0.71},{"g":"H","k":"m","t":51,"v":0.69},{"g":"H","k":"m","t":55,"v":0.66},{"g":"H","k":"m","t":64,"v":0.63},{"g":"H","k":"m","t":68,"v":0.6},{"g":"H","k":"m","t":71.6,"v":0.55},{"g":"H","k":"m","t":84.5,"v":0.49},{"g":"H","k":"m","t":102,"v":0.37},{"g":"H","k":"m","t":151.6,"v":0.37},
{"g":"L","k":"u","t":0,"v":1},{"g":"L","k":"u","t":10,"v":1},{"g":"L","k":"u","t":20,"v":0.97},{"g":"L","k":"u","t":35,"v":0.9},{"g":"L","k":"u","t":48,"v":0.84},{"g":"L","k":"u","t":55,"v":0.78},{"g":"L","k":"u","t":62,"v":0.72},{"g":"L","k":"u","t":70,"v":0.7},{"g":"L","k":"u","t":84,"v":0.65},{"g":"L","k":"u","t":95,"v":0.62},{"g":"L","k":"u","t":143,"v":0.62},
{"g":"L","k":"l","t":0,"v":1},{"g":"L","k":"l","t":10,"v":0.9},{"g":"L","k":"l","t":20,"v":0.82},{"g":"L","k":"l","t":35,"v":0.72},{"g":"L","k":"l","t":48,"v":0.6},{"g":"L","k":"l","t":55,"v":0.52},{"g":"L","k":"l","t":62,"v":0.45},{"g":"L","k":"l","t":70,"v":0.41},{"g":"L","k":"l","t":84,"v":0.38},{"g":"L","k":"l","t":95,"v":0.33},{"g":"L","k":"l","t":143,"v":0.33},
{"g":"H","k":"u","t":0,"v":1},{"g":"H","k":"u","t":10,"v":0.98},{"g":"H","k":"u","t":20,"v":0.93},{"g":"H","k":"u","t":35,"v":0.88},{"g":"H","k":"u","t":48,"v":0.83},{"g":"H","k":"u","t":56,"v":0.79},{"g":"H","k":"u","t":64,"v":0.76},{"g":"H","k":"u","t":72,"v":0.72},{"g":"H","k":"u","t":85,"v":0.7},{"g":"H","k":"u","t":102,"v":0.72},{"g":"H","k":"u","t":151,"v":0.72},
{"g":"H","k":"l","t":0,"v":1},{"g":"H","k":"l","t":10,"v":0.86},{"g":"H","k":"l","t":20,"v":0.77},{"g":"H","k":"l","t":35,"v":0.7},{"g":"H","k":"l","t":48,"v":0.62},{"g":"H","k":"l","t":56,"v":0.56},{"g":"H","k":"l","t":64,"v":0.5},{"g":"H","k":"l","t":70,"v":0.45},{"g":"H","k":"l","t":85,"v":0.35},{"g":"H","k":"l","t":102,"v":0.19},{"g":"H","k":"l","t":151,"v":0.19},
{"g":"L","k":"c","t":5,"v":0.99},{"g":"L","k":"c","t":8,"v":0.97},{"g":"L","k":"c","t":17,"v":0.89},{"g":"L","k":"c","t":21,"v":0.87},{"g":"L","k":"c","t":25,"v":0.85},{"g":"L","k":"c","t":30,"v":0.82},{"g":"L","k":"c","t":36,"v":0.8},{"g":"L","k":"c","t":55,"v":0.62},{"g":"L","k":"c","t":61,"v":0.57},{"g":"L","k":"c","t":78,"v":0.525},{"g":"L","k":"c","t":80,"v":0.525},{"g":"L","k":"c","t":87,"v":0.49},{"g":"L","k":"c","t":90,"v":0.49},{"g":"L","k":"c","t":97,"v":0.455},{"g":"L","k":"c","t":100,"v":0.455},{"g":"L","k":"c","t":119,"v":0.455},{"g":"L","k":"c","t":122,"v":0.455},{"g":"L","k":"c","t":127,"v":0.455},{"g":"L","k":"c","t":129,"v":0.455},{"g":"L","k":"c","t":133,"v":0.455},{"g":"L","k":"c","t":134,"v":0.455},{"g":"L","k":"c","t":141,"v":0.455},{"g":"L","k":"c","t":143,"v":0.455},
{"g":"H","k":"c","t":20,"v":0.84},{"g":"H","k":"c","t":24,"v":0.82},{"g":"H","k":"c","t":27,"v":0.82},{"g":"H","k":"c","t":30,"v":0.8},{"g":"H","k":"c","t":33,"v":0.8},{"g":"H","k":"c","t":36,"v":0.785},{"g":"H","k":"c","t":38,"v":0.785},{"g":"H","k":"c","t":42,"v":0.75},{"g":"H","k":"c","t":55,"v":0.69},{"g":"H","k":"c","t":57,"v":0.69},{"g":"H","k":"c","t":65,"v":0.66},{"g":"H","k":"c","t":67,"v":0.63},{"g":"H","k":"c","t":75,"v":0.55},{"g":"H","k":"c","t":80,"v":0.55},{"g":"H","k":"c","t":82,"v":0.55},{"g":"H","k":"c","t":87,"v":0.49},{"g":"H","k":"c","t":89,"v":0.49},{"g":"H","k":"c","t":136,"v":0.37},{"g":"H","k":"c","t":137,"v":0.37},{"g":"H","k":"c","t":151,"v":0.37}
],
"g":[
{"g":"L","k":"m","t":0,"v":1},{"g":"L","k":"m","t":4,"v":0.99},{"g":"L","k":"m","t":7,"v":0.97},{"g":"L","k":"m","t":10,"v":0.95},{"g":"L","k":"m","t":13,"v":0.93},{"g":"L","k":"m","t":16,"v":0.9},{"g":"L","k":"m","t":20,"v":0.895},{"g":"L","k":"m","t":23,"v":0.88},{"g":"L","k":"m","t":26,"v":0.865},{"g":"L","k":"m","t":29,"v":0.85},{"g":"L","k":"m","t":32,"v":0.835},{"g":"L","k":"m","t":35,"v":0.815},{"g":"L","k":"m","t":38,"v":0.79},{"g":"L","k":"m","t":41,"v":0.77},{"g":"L","k":"m","t":44.5,"v":0.745},{"g":"L","k":"m","t":47.5,"v":0.72},{"g":"L","k":"m","t":50,"v":0.69},{"g":"L","k":"m","t":53.5,"v":0.67},{"g":"L","k":"m","t":59.6,"v":0.645},{"g":"L","k":"m","t":62.6,"v":0.61},{"g":"L","k":"m","t":67,"v":0.585},{"g":"L","k":"m","t":83.7,"v":0.555},{"g":"L","k":"m","t":86.7,"v":0.525},{"g":"L","k":"m","t":95,"v":0.475},{"g":"L","k":"m","t":144.8,"v":0.475},
{"g":"H","k":"m","t":0,"v":1},{"g":"H","k":"m","t":2,"v":0.98},{"g":"H","k":"m","t":5,"v":0.93},{"g":"H","k":"m","t":8,"v":0.91},{"g":"H","k":"m","t":11,"v":0.89},{"g":"H","k":"m","t":14,"v":0.86},{"g":"H","k":"m","t":17,"v":0.84},{"g":"H","k":"m","t":20,"v":0.82},{"g":"H","k":"m","t":23,"v":0.8},{"g":"H","k":"m","t":26,"v":0.78},{"g":"H","k":"m","t":29,"v":0.76},{"g":"H","k":"m","t":30,"v":0.74},{"g":"H","k":"m","t":38,"v":0.73},{"g":"H","k":"m","t":40,"v":0.72},{"g":"H","k":"m","t":44,"v":0.7},{"g":"H","k":"m","t":47.5,"v":0.68},{"g":"H","k":"m","t":50.5,"v":0.655},{"g":"H","k":"m","t":55,"v":0.64},{"g":"H","k":"m","t":57,"v":0.6},{"g":"H","k":"m","t":62.6,"v":0.575},{"g":"H","k":"m","t":64,"v":0.55},{"g":"H","k":"m","t":68.6,"v":0.51},{"g":"H","k":"m","t":71.6,"v":0.465},{"g":"H","k":"m","t":101,"v":0.39},{"g":"H","k":"m","t":151.6,"v":0.39},
{"g":"L","k":"u","t":0,"v":1},{"g":"L","k":"u","t":5,"v":1},{"g":"L","k":"u","t":20,"v":0.96},{"g":"L","k":"u","t":35,"v":0.92},{"g":"L","k":"u","t":47,"v":0.87},{"g":"L","k":"u","t":55,"v":0.82},{"g":"L","k":"u","t":63,"v":0.77},{"g":"L","k":"u","t":70,"v":0.73},{"g":"L","k":"u","t":85,"v":0.68},{"g":"L","k":"u","t":95,"v":0.66},{"g":"L","k":"u","t":143,"v":0.66},
{"g":"L","k":"l","t":0,"v":1},{"g":"L","k":"l","t":10,"v":0.92},{"g":"L","k":"l","t":20,"v":0.84},{"g":"L","k":"l","t":30,"v":0.77},{"g":"L","k":"l","t":40,"v":0.68},{"g":"L","k":"l","t":50,"v":0.6},{"g":"L","k":"l","t":60,"v":0.52},{"g":"L","k":"l","t":67,"v":0.46},{"g":"L","k":"l","t":85,"v":0.4},{"g":"L","k":"l","t":95,"v":0.35},{"g":"L","k":"l","t":143,"v":0.35},
{"g":"H","k":"u","t":0,"v":1},{"g":"H","k":"u","t":5,"v":0.99},{"g":"H","k":"u","t":15,"v":0.95},{"g":"H","k":"u","t":30,"v":0.88},{"g":"H","k":"u","t":40,"v":0.85},{"g":"H","k":"u","t":50,"v":0.8},{"g":"H","k":"u","t":57,"v":0.75},{"g":"H","k":"u","t":64,"v":0.72},{"g":"H","k":"u","t":72,"v":0.665},{"g":"H","k":"u","t":101,"v":0.65},{"g":"H","k":"u","t":151,"v":0.65},
{"g":"H","k":"l","t":0,"v":1},{"g":"H","k":"l","t":5,"v":0.87},{"g":"H","k":"l","t":15,"v":0.78},{"g":"H","k":"l","t":30,"v":0.67},{"g":"H","k":"l","t":40,"v":0.63},{"g":"H","k":"l","t":50,"v":0.55},{"g":"H","k":"l","t":57,"v":0.5},{"g":"H","k":"l","t":64,"v":0.4},{"g":"H","k":"l","t":72,"v":0.33},{"g":"H","k":"l","t":101,"v":0.235},{"g":"H","k":"l","t":151,"v":0.235},
{"g":"L","k":"c","t":5,"v":0.99},{"g":"L","k":"c","t":18,"v":0.9},{"g":"L","k":"c","t":22,"v":0.895},{"g":"L","k":"c","t":27,"v":0.865},{"g":"L","k":"c","t":30,"v":0.85},{"g":"L","k":"c","t":34,"v":0.835},{"g":"L","k":"c","t":40,"v":0.79},{"g":"L","k":"c","t":44,"v":0.77},{"g":"L","k":"c","t":56,"v":0.67},{"g":"L","k":"c","t":58,"v":0.67},{"g":"L","k":"c","t":60,"v":0.645},{"g":"L","k":"c","t":65,"v":0.61},{"g":"L","k":"c","t":79,"v":0.585},{"g":"L","k":"c","t":80,"v":0.585},{"g":"L","k":"c","t":82,"v":0.585},{"g":"L","k":"c","t":88,"v":0.525},{"g":"L","k":"c","t":90,"v":0.525},{"g":"L","k":"c","t":92,"v":0.525},{"g":"L","k":"c","t":98,"v":0.475},{"g":"L","k":"c","t":100,"v":0.475},{"g":"L","k":"c","t":120,"v":0.475},{"g":"L","k":"c","t":122,"v":0.475},{"g":"L","k":"c","t":133,"v":0.475},{"g":"L","k":"c","t":134,"v":0.475},{"g":"L","k":"c","t":136,"v":0.475},{"g":"L","k":"c","t":143,"v":0.475},
{"g":"H","k":"c","t":30,"v":0.74},{"g":"H","k":"c","t":31,"v":0.74},{"g":"H","k":"c","t":33,"v":0.74},{"g":"H","k":"c","t":35,"v":0.74},{"g":"H","k":"c","t":37,"v":0.74},{"g":"H","k":"c","t":45,"v":0.7},{"g":"H","k":"c","t":54,"v":0.655},{"g":"H","k":"c","t":57,"v":0.6},{"g":"H","k":"c","t":65,"v":0.55},{"g":"H","k":"c","t":66,"v":0.55},{"g":"H","k":"c","t":76,"v":0.465},{"g":"H","k":"c","t":80,"v":0.465},{"g":"H","k":"c","t":84,"v":0.465},{"g":"H","k":"c","t":128,"v":0.39},{"g":"H","k":"c","t":130,"v":0.39},{"g":"H","k":"c","t":132,"v":0.39},{"g":"H","k":"c","t":138,"v":0.39},{"g":"H","k":"c","t":151.6,"v":0.39}
],
"h":[
{"g":"L","k":"m","t":0,"v":1},{"g":"L","k":"m","t":4,"v":0.98},{"g":"L","k":"m","t":7,"v":0.95},{"g":"L","k":"m","t":10,"v":0.93},{"g":"L","k":"m","t":13,"v":0.91},{"g":"L","k":"m","t":16,"v":0.89},{"g":"L","k":"m","t":19,"v":0.88},{"g":"L","k":"m","t":25,"v":0.86},{"g":"L","k":"m","t":28,"v":0.84},{"g":"L","k":"m","t":31,"v":0.83},{"g":"L","k":"m","t":34,"v":0.82},{"g":"L","k":"m","t":37,"v":0.81},{"g":"L","k":"m","t":39,"v":0.77},{"g":"L","k":"m","t":42,"v":0.75},{"g":"L","k":"m","t":45,"v":0.73},{"g":"L","k":"m","t":48,"v":0.71},{"g":"L","k":"m","t":50,"v":0.68},{"g":"L","k":"m","t":54,"v":0.66},{"g":"L","k":"m","t":58,"v":0.63},{"g":"L","k":"m","t":60.6,"v":0.61},{"g":"L","k":"m","t":63,"v":0.58},{"g":"L","k":"m","t":82,"v":0.545},{"g":"L","k":"m","t":85,"v":0.515},{"g":"L","k":"m","t":95,"v":0.47},{"g":"L","k":"m","t":144,"v":0.47},
{"g":"H","k":"m","t":0,"v":1},{"g":"H","k":"m","t":4,"v":0.98},{"g":"H","k":"m","t":8.6,"v":0.95},{"g":"H","k":"m","t":11.6,"v":0.92},{"g":"H","k":"m","t":14.6,"v":0.88},{"g":"H","k":"m","t":17.6,"v":0.84},{"g":"H","k":"m","t":20.7,"v":0.81},{"g":"H","k":"m","t":23.7,"v":0.8},{"g":"H","k":"m","t":26.7,"v":0.79},{"g":"H","k":"m","t":29.7,"v":0.77},{"g":"H","k":"m","t":32.7,"v":0.75},{"g":"H","k":"m","t":44.8,"v":0.74},{"g":"H","k":"m","t":46,"v":0.72},{"g":"H","k":"m","t":48,"v":0.69},{"g":"H","k":"m","t":49,"v":0.66},{"g":"H","k":"m","t":56,"v":0.63},{"g":"H","k":"m","t":61,"v":0.61},{"g":"H","k":"m","t":64,"v":0.58},{"g":"H","k":"m","t":66,"v":0.555},{"g":"H","k":"m","t":69,"v":0.52},{"g":"H","k":"m","t":72,"v":0.475},{"g":"H","k":"m","t":101.4,"v":0.36},{"g":"H","k":"m","t":151,"v":0.36},
{"g":"L","k":"u","t":0,"v":1},{"g":"L","k":"u","t":15,"v":0.97},{"g":"L","k":"u","t":30,"v":0.95},{"g":"L","k":"u","t":42,"v":0.88},{"g":"L","k":"u","t":52,"v":0.81},{"g":"L","k":"u","t":60,"v":0.76},{"g":"L","k":"u","t":70,"v":0.71},{"g":"L","k":"u","t":85,"v":0.67},{"g":"L","k":"u","t":95,"v":0.645},{"g":"L","k":"u","t":143,"v":0.645},
{"g":"L","k":"l","t":0,"v":1},{"g":"L","k":"l","t":15,"v":0.83},{"g":"L","k":"l","t":30,"v":0.76},{"g":"L","k":"l","t":42,"v":0.66},{"g":"L","k":"l","t":52,"v":0.58},{"g":"L","k":"l","t":58,"v":0.52},{"g":"L","k":"l","t":63,"v":0.47},{"g":"L","k":"l","t":85,"v":0.395},{"g":"L","k":"l","t":95,"v":0.345},{"g":"L","k":"l","t":143,"v":0.345},
{"g":"H","k":"u","t":0,"v":1},{"g":"H","k":"u","t":15,"v":0.95},{"g":"H","k":"u","t":30,"v":0.88},{"g":"H","k":"u","t":45,"v":0.84},{"g":"H","k":"u","t":50,"v":0.78},{"g":"H","k":"u","t":56,"v":0.74},{"g":"H","k":"u","t":64,"v":0.71},{"g":"H","k":"u","t":72,"v":0.67},{"g":"H","k":"u","t":101.4,"v":0.69},{"g":"H","k":"u","t":151,"v":0.69},
{"g":"H","k":"l","t":0,"v":1},{"g":"H","k":"l","t":15,"v":0.78},{"g":"H","k":"l","t":30,"v":0.68},{"g":"H","k":"l","t":45,"v":0.63},{"g":"H","k":"l","t":50,"v":0.55},{"g":"H","k":"l","t":58,"v":0.49},{"g":"H","k":"l","t":66,"v":0.42},{"g":"H","k":"l","t":72,"v":0.345},{"g":"H","k":"l","t":101.4,"v":0.19},{"g":"H","k":"l","t":151,"v":0.19},
{"g":"L","k":"c","t":20,"v":0.88},{"g":"L","k":"c","t":22,"v":0.88},{"g":"L","k":"c","t":24,"v":0.88},{"g":"L","k":"c","t":29,"v":0.84},{"g":"L","k":"c","t":33,"v":0.83},{"g":"L","k":"c","t":35,"v":0.82},{"g":"L","k":"c","t":38,"v":0.81},{"g":"L","k":"c","t":44,"v":0.75},{"g":"L","k":"c","t":54,"v":0.66},{"g":"L","k":"c","t":57,"v":0.66},{"g":"L","k":"c","t":77,"v":0.58},{"g":"L","k":"c","t":80,"v":0.58},{"g":"L","k":"c","t":87,"v":0.515},{"g":"L","k":"c","t":90,"v":0.515},{"g":"L","k":"c","t":97,"v":0.47},{"g":"L","k":"c","t":100,"v":0.47},{"g":"L","k":"c","t":119,"v":0.47},{"g":"L","k":"c","t":122,"v":0.47},{"g":"L","k":"c","t":127,"v":0.47},{"g":"L","k":"c","t":131,"v":0.47},{"g":"L","k":"c","t":133,"v":0.47},{"g":"L","k":"c","t":135,"v":0.47},{"g":"L","k":"c","t":138,"v":0.47},{"g":"L","k":"c","t":142,"v":0.47},
{"g":"H","k":"c","t":21,"v":0.81},{"g":"H","k":"c","t":24,"v":0.8},{"g":"H","k":"c","t":27,"v":0.79},{"g":"H","k":"c","t":31,"v":0.77},{"g":"H","k":"c","t":34,"v":0.75},{"g":"H","k":"c","t":37,"v":0.75},{"g":"H","k":"c","t":40,"v":0.75},{"g":"H","k":"c","t":43,"v":0.75},{"g":"H","k":"c","t":56,"v":0.63},{"g":"H","k":"c","t":58,"v":0.63},{"g":"H","k":"c","t":76,"v":0.475},{"g":"H","k":"c","t":80,"v":0.475},{"g":"H","k":"c","t":84,"v":0.475},{"g":"H","k":"c","t":87,"v":0.475},{"g":"H","k":"c","t":93,"v":0.475},{"g":"H","k":"c","t":98,"v":0.475},{"g":"H","k":"c","t":127,"v":0.36},{"g":"H","k":"c","t":132,"v":0.36},{"g":"H","k":"c","t":151,"v":0.36}
],
"i":[
{"g":"L","k":"m","t":0,"v":1},{"g":"L","k":"m","t":3.5,"v":0.99},{"g":"L","k":"m","t":8,"v":0.97},{"g":"L","k":"m","t":11,"v":0.95},{"g":"L","k":"m","t":12.5,"v":0.92},{"g":"L","k":"m","t":14,"v":0.89},{"g":"L","k":"m","t":17,"v":0.87},{"g":"L","k":"m","t":20,"v":0.85},{"g":"L","k":"m","t":23,"v":0.83},{"g":"L","k":"m","t":26,"v":0.8},{"g":"L","k":"m","t":29,"v":0.79},{"g":"L","k":"m","t":32,"v":0.77},{"g":"L","k":"m","t":35,"v":0.75},{"g":"L","k":"m","t":38,"v":0.73},{"g":"L","k":"m","t":41,"v":0.71},{"g":"L","k":"m","t":44,"v":0.69},{"g":"L","k":"m","t":46.5,"v":0.67},{"g":"L","k":"m","t":48,"v":0.63},{"g":"L","k":"m","t":52.5,"v":0.6},{"g":"L","k":"m","t":57.8,"v":0.58},{"g":"L","k":"m","t":60.8,"v":0.56},{"g":"L","k":"m","t":63,"v":0.52},{"g":"L","k":"m","t":83.4,"v":0.49},{"g":"L","k":"m","t":94.7,"v":0.445},{"g":"L","k":"m","t":143.7,"v":0.445},
{"g":"H","k":"m","t":0,"v":1},{"g":"H","k":"m","t":3.5,"v":0.98},{"g":"H","k":"m","t":6.5,"v":0.94},{"g":"H","k":"m","t":9.5,"v":0.91},{"g":"H","k":"m","t":12.5,"v":0.89},{"g":"H","k":"m","t":15.5,"v":0.87},{"g":"H","k":"m","t":20,"v":0.86},{"g":"H","k":"m","t":24.6,"v":0.85},{"g":"H","k":"m","t":27.6,"v":0.83},{"g":"H","k":"m","t":29,"v":0.82},{"g":"H","k":"m","t":38,"v":0.8},{"g":"H","k":"m","t":39.7,"v":0.785},{"g":"H","k":"m","t":44,"v":0.775},{"g":"H","k":"m","t":47,"v":0.75},{"g":"H","k":"m","t":51,"v":0.72},{"g":"H","k":"m","t":55.5,"v":0.7},{"g":"H","k":"m","t":57.8,"v":0.66},{"g":"H","k":"m","t":65,"v":0.635},{"g":"H","k":"m","t":68,"v":0.59},{"g":"H","k":"m","t":72,"v":0.55},{"g":"H","k":"m","t":85,"v":0.5},{"g":"H","k":"m","t":101.8,"v":0.4},{"g":"H","k":"m","t":151,"v":0.4},
{"g":"L","k":"u","t":0,"v":1},{"g":"L","k":"u","t":10,"v":0.99},{"g":"L","k":"u","t":25,"v":0.93},{"g":"L","k":"u","t":40,"v":0.87},{"g":"L","k":"u","t":48,"v":0.8},{"g":"L","k":"u","t":55,"v":0.75},{"g":"L","k":"u","t":63,"v":0.7},{"g":"L","k":"u","t":85,"v":0.66},{"g":"L","k":"u","t":95,"v":0.625},{"g":"L","k":"u","t":143,"v":0.625},
{"g":"L","k":"l","t":0,"v":1},{"g":"L","k":"l","t":15,"v":0.84},{"g":"L","k":"l","t":25,"v":0.74},{"g":"L","k":"l","t":40,"v":0.64},{"g":"L","k":"l","t":48,"v":0.55},{"g":"L","k":"l","t":55,"v":0.5},{"g":"L","k":"l","t":58,"v":0.44},{"g":"L","k":"l","t":63,"v":0.4},{"g":"L","k":"l","t":83,"v":0.37},{"g":"L","k":"l","t":95,"v":0.32},{"g":"L","k":"l","t":143,"v":0.32},
{"g":"H","k":"u","t":0,"v":1},{"g":"H","k":"u","t":15,"v":0.97},{"g":"H","k":"u","t":30,"v":0.92},{"g":"H","k":"u","t":45,"v":0.89},{"g":"H","k":"u","t":58,"v":0.84},{"g":"H","k":"u","t":63,"v":0.8},{"g":"H","k":"u","t":72,"v":0.73},{"g":"H","k":"u","t":85,"v":0.7},{"g":"H","k":"u","t":102,"v":0.69},{"g":"H","k":"u","t":151,"v":0.69},
{"g":"H","k":"l","t":0,"v":1},{"g":"H","k":"l","t":15,"v":0.79},{"g":"H","k":"l","t":30,"v":0.73},{"g":"H","k":"l","t":45,"v":0.7},{"g":"H","k":"l","t":55,"v":0.6},{"g":"H","k":"l","t":62,"v":0.53},{"g":"H","k":"l","t":66,"v":0.47},{"g":"H","k":"l","t":72,"v":0.42},{"g":"H","k":"l","t":85,"v":0.37},{"g":"H","k":"l","t":102,"v":0.23},{"g":"H","k":"l","t":151,"v":0.23},
{"g":"L","k":"c","t":5,"v":0.99},{"g":"L","k":"c","t":35,"v":0.75},{"g":"L","k":"c","t":37,"v":0.75},{"g":"L","k":"c","t":40,"v":0.73},{"g":"L","k":"c","t":43,"v":0.71},{"g":"L","k":"c","t":55,"v":0.6},{"g":"L","k":"c","t":57,"v":0.6},{"g":"L","k":"c","t":60,"v":0.58},{"g":"L","k":"c","t":80,"v":0.52},{"g":"L","k":"c","t":87,"v":0.49},{"g":"L","k":"c","t":90,"v":0.49},{"g":"L","k":"c","t":97,"v":0.445},{"g":"L","k":"c","t":100,"v":0.445},{"g":"L","k":"c","t":119,"v":0.445},{"g":"L","k":"c","t":122,"v":0.445},{"g":"L","k":"c","t":128,"v":0.445},{"g":"L","k":"c","t":130,"v":0.445},{"g":"L","k":"c","t":131,"v":0.445},{"g":"L","k":"c","t":133,"v":0.445},{"g":"L","k":"c","t":141,"v":0.445},{"g":"L","k":"c","t":143,"v":0.445},
{"g":"H","k":"c","t":20,"v":0.86},{"g":"H","k":"c","t":23,"v":0.86},{"g":"H","k":"c","t":26,"v":0.85},{"g":"H","k":"c","t":30,"v":0.82},{"g":"H","k":"c","t":32,"v":0.82},{"g":"H","k":"c","t":34,"v":0.82},{"g":"H","k":"c","t":36,"v":0.82},{"g":"H","k":"c","t":45,"v":0.775},{"g":"H","k":"c","t":47,"v":0.775},{"g":"H","k":"c","t":60,"v":0.66},{"g":"H","k":"c","t":62,"v":0.66},{"g":"H","k":"c","t":66,"v":0.635},{"g":"H","k":"c","t":74,"v":0.55},{"g":"H","k":"c","t":76,"v":0.55},{"g":"H","k":"c","t":78,"v":0.55},{"g":"H","k":"c","t":80,"v":0.55},{"g":"H","k":"c","t":84,"v":0.55},{"g":"H","k":"c","t":87,"v":0.5},{"g":"H","k":"c","t":90,"v":0.5},{"g":"H","k":"c","t":127,"v":0.4},{"g":"H","k":"c","t":136,"v":0.4},{"g":"H","k":"c","t":137,"v":0.4},{"g":"H","k":"c","t":151,"v":0.4}
],
"j":[
{"g":"L","k":"m","t":0,"v":1},{"g":"L","k":"m","t":2.5,"v":0.99},{"g":"L","k":"m","t":5.6,"v":0.96},{"g":"L","k":"m","t":8.6,"v":0.93},{"g":"L","k":"m","t":11.6,"v":0.91},{"g":"L","k":"m","t":14.6,"v":0.89},{"g":"L","k":"m","t":17.6,"v":0.87},{"g":"L","k":"m","t":20.7,"v":0.845},{"g":"L","k":"m","t":23.7,"v":0.83},{"g":"L","k":"m","t":26.7,"v":0.81},{"g":"L","k":"m","t":29.7,"v":0.8},{"g":"L","k":"m","t":32.7,"v":0.79},{"g":"L","k":"m","t":35.7,"v":0.785},{"g":"L","k":"m","t":37,"v":0.77},{"g":"L","k":"m","t":41.8,"v":0.76},{"g":"L","k":"m","t":44.8,"v":0.74},{"g":"L","k":"m","t":46.3,"v":0.72},{"g":"L","k":"m","t":48.6,"v":0.69},{"g":"L","k":"m","t":50.8,"v":0.66},{"g":"L","k":"m","t":53.8,"v":0.63},{"g":"L","k":"m","t":57.6,"v":0.6},{"g":"L","k":"m","t":59.9,"v":0.57},{"g":"L","k":"m","t":62.9,"v":0.53},{"g":"L","k":"m","t":82.5,"v":0.5},{"g":"L","k":"m","t":143.6,"v":0.5},
{"g":"H","k":"m","t":0,"v":1},{"g":"H","k":"m","t":3.3,"v":0.99},{"g":"H","k":"m","t":5.6,"v":0.96},{"g":"H","k":"m","t":8.6,"v":0.93},{"g":"H","k":"m","t":11.6,"v":0.91},{"g":"H","k":"m","t":14.6,"v":0.88},{"g":"H","k":"m","t":17.6,"v":0.86},{"g":"H","k":"m","t":20.7,"v":0.85},{"g":"H","k":"m","t":23.7,"v":0.83},{"g":"H","k":"m","t":28.2,"v":0.81},{"g":"H","k":"m","t":32.7,"v":0.8},{"g":"H","k":"m","t":37.3,"v":0.79},{"g":"H","k":"m","t":40.3,"v":0.75},{"g":"H","k":"m","t":44.8,"v":0.74},{"g":"H","k":"m","t":47,"v":0.72},{"g":"H","k":"m","t":47.8,"v":0.71},{"g":"H","k":"m","t":55.4,"v":0.68},{"g":"H","k":"m","t":64.4,"v":0.64},{"g":"H","k":"m","t":67.4,"v":0.61},{"g":"H","k":"m","t":72,"v":0.545},{"g":"H","k":"m","t":84.8,"v":0.49},{"g":"H","k":"m","t":94.6,"v":0.39},{"g":"H","k":"m","t":101.8,"v":0.29},{"g":"H","k":"m","t":151.6,"v":0.29},
{"g":"L","k":"u","t":0,"v":1},{"g":"L","k":"u","t":15,"v":0.97},{"g":"L","k":"u","t":30,"v":0.91},{"g":"L","k":"u","t":42,"v":0.87},{"g":"L","k":"u","t":50,"v":0.81},{"g":"L","k":"u","t":58,"v":0.75},{"g":"L","k":"u","t":63,"v":0.7},{"g":"L","k":"u","t":82,"v":0.685},{"g":"L","k":"u","t":95,"v":0.65},{"g":"L","k":"u","t":143,"v":0.65},
{"g":"L","k":"l","t":0,"v":1},{"g":"L","k":"l","t":15,"v":0.82},{"g":"L","k":"l","t":30,"v":0.72},{"g":"L","k":"l","t":42,"v":0.65},{"g":"L","k":"l","t":50,"v":0.56},{"g":"L","k":"l","t":58,"v":0.47},{"g":"L","k":"l","t":63,"v":0.41},{"g":"L","k":"l","t":82.5,"v":0.38},{"g":"L","k":"l","t":143,"v":0.38},
{"g":"H","k":"u","t":0,"v":1},{"g":"H","k":"u","t":15,"v":0.96},{"g":"H","k":"u","t":30,"v":0.91},{"g":"H","k":"u","t":45,"v":0.86},{"g":"H","k":"u","t":58,"v":0.8},{"g":"H","k":"u","t":67,"v":0.76},{"g":"H","k":"u","t":72,"v":0.71},{"g":"H","k":"u","t":85,"v":0.68},{"g":"H","k":"u","t":95,"v":0.66},{"g":"H","k":"u","t":102,"v":0.63},{"g":"H","k":"u","t":151,"v":0.63},
{"g":"H","k":"l","t":0,"v":1},{"g":"H","k":"l","t":15,"v":0.79},{"g":"H","k":"l","t":30,"v":0.72},{"g":"H","k":"l","t":45,"v":0.65},{"g":"H","k":"l","t":56,"v":0.6},{"g":"H","k":"l","t":64,"v":0.52},{"g":"H","k":"l","t":68,"v":0.45},{"g":"H","k":"l","t":72,"v":0.41},{"g":"H","k":"l","t":85,"v":0.34},{"g":"H","k":"l","t":95,"v":0.2},{"g":"H","k":"l","t":102,"v":0.13},{"g":"H","k":"l","t":151,"v":0.13},
{"g":"L","k":"c","t":35,"v":0.785},{"g":"L","k":"c","t":38,"v":0.77},{"g":"L","k":"c","t":40,"v":0.77},{"g":"L","k":"c","t":42,"v":0.76},{"g":"L","k":"c","t":57,"v":0.6},{"g":"L","k":"c","t":61,"v":0.57},{"g":"L","k":"c","t":65,"v":0.53},{"g":"L","k":"c","t":67,"v":0.53},{"g":"L","k":"c","t":86,"v":0.5},{"g":"L","k":"c","t":89,"v":0.5},{"g":"L","k":"c","t":92,"v":0.5},{"g":"L","k":"c","t":97,"v":0.5},{"g":"L","k":"c","t":100,"v":0.5},{"g":"L","k":"c","t":119,"v":0.5},{"g":"L","k":"c","t":122,"v":0.5},{"g":"L","k":"c","t":127,"v":0.5},{"g":"L","k":"c","t":130,"v":0.5},{"g":"L","k":"c","t":132,"v":0.5},{"g":"L","k":"c","t":133,"v":0.5},{"g":"L","k":"c","t":142,"v":0.5},{"g":"L","k":"c","t":143,"v":0.5},
{"g":"H","k":"c","t":25,"v":0.83},{"g":"H","k":"c","t":28,"v":0.81},{"g":"H","k":"c","t":31,"v":0.81},{"g":"H","k":"c","t":34,"v":0.8},{"g":"H","k":"c","t":36,"v":0.79},{"g":"H","k":"c","t":39,"v":0.79},{"g":"H","k":"c","t":42,"v":0.75},{"g":"H","k":"c","t":50,"v":0.71},{"g":"H","k":"c","t":57,"v":0.68},{"g":"H","k":"c","t":60,"v":0.68},{"g":"H","k":"c","t":62,"v":0.68},{"g":"H","k":"c","t":75,"v":0.545},{"g":"H","k":"c","t":78,"v":0.545},{"g":"H","k":"c","t":82,"v":0.545},{"g":"H","k":"c","t":87,"v":0.49},{"g":"H","k":"c","t":136,"v":0.29},{"g":"H","k":"c","t":137,"v":0.29},{"g":"H","k":"c","t":151,"v":0.29}
],
"k":[
{"g":"L","k":"m","t":0,"v":1},{"g":"L","k":"m","t":4,"v":0.97},{"g":"L","k":"m","t":10,"v":0.95},{"g":"L","k":"m","t":13.5,"v":0.93},{"g":"L","k":"m","t":17,"v":0.91},{"g":"L","k":"m","t":20,"v":0.88},{"g":"L","k":"m","t":23,"v":0.85},{"g":"L","k":"m","t":26,"v":0.83},{"g":"L","k":"m","t":29.5,"v":0.81},{"g":"L","k":"m","t":36,"v":0.8},{"g":"L","k":"m","t":41,"v":0.785},{"g":"L","k":"m","t":44,"v":0.765},{"g":"L","k":"m","t":47,"v":0.75},{"g":"L","k":"m","t":52,"v":0.72},{"g":"L","k":"m","t":119.5,"v":0.54},{"g":"L","k":"m","t":322,"v":0.54},
{"g":"H","k":"m","t":0,"v":1},{"g":"H","k":"m","t":2,"v":0.97},{"g":"H","k":"m","t":5.5,"v":0.92},{"g":"H","k":"m","t":8.7,"v":0.88},{"g":"H","k":"m","t":12,"v":0.84},{"g":"H","k":"m","t":15,"v":0.82},{"g":"H","k":"m","t":20,"v":0.79},{"g":"H","k":"m","t":23,"v":0.77},{"g":"H","k":"m","t":26,"v":0.75},{"g":"H","k":"m","t":28,"v":0.72},{"g":"H","k":"m","t":29.5,"v":0.705},{"g":"H","k":"m","t":44,"v":0.69},{"g":"H","k":"m","t":45.6,"v":0.65},{"g":"H","k":"m","t":49,"v":0.63},{"g":"H","k":"m","t":52,"v":0.605},{"g":"H","k":"m","t":142,"v":0.605},
{"g":"L","k":"u","t":0,"v":1},{"g":"L","k":"u","t":10,"v":0.98},{"g":"L","k":"u","t":20,"v":0.93},{"g":"L","k":"u","t":35,"v":0.88},{"g":"L","k":"u","t":45,"v":0.85},{"g":"L","k":"u","t":52,"v":0.83},{"g":"L","k":"u","t":119.5,"v":0.97},{"g":"L","k":"u","t":322,"v":0.97},
{"g":"L","k":"l","t":0,"v":1},{"g":"L","k":"l","t":10,"v":0.9},{"g":"L","k":"l","t":20,"v":0.8},{"g":"L","k":"l","t":29.5,"v":0.7},{"g":"L","k":"l","t":40,"v":0.66},{"g":"L","k":"l","t":52,"v":0.63},{"g":"L","k":"l","t":119.5,"v":0.3},{"g":"L","k":"l","t":322,"v":0.3},
{"g":"H","k":"u","t":0,"v":1},{"g":"H","k":"u","t":10,"v":0.95},{"g":"H","k":"u","t":25,"v":0.88},{"g":"H","k":"u","t":30,"v":0.79},{"g":"H","k":"u","t":45,"v":0.77},{"g":"H","k":"u","t":52,"v":0.72},{"g":"H","k":"u","t":142,"v":0.72},
{"g":"H","k":"l","t":0,"v":1},{"g":"H","k":"l","t":10,"v":0.8},{"g":"H","k":"l","t":20,"v":0.7},{"g":"H","k":"l","t":30,"v":0.62},{"g":"H","k":"l","t":45,"v":0.55},{"g":"H","k":"l","t":52,"v":0.505},{"g":"H","k":"l","t":142,"v":0.505},
{"g":"L","k":"c","t":8,"v":0.95},{"g":"L","k":"c","t":15,"v":0.91},{"g":"L","k":"c","t":22,"v":0.85},{"g":"L","k":"c","t":27,"v":0.83},{"g":"L","k":"c","t":33,"v":0.8},{"g":"L","k":"c","t":37,"v":0.8},{"g":"L","k":"c","t":40,"v":0.8},{"g":"L","k":"c","t":46,"v":0.765},{"g":"L","k":"c","t":50,"v":0.75},{"g":"L","k":"c","t":58,"v":0.72},{"g":"L","k":"c","t":64,"v":0.72},{"g":"L","k":"c","t":70,"v":0.72},{"g":"L","k":"c","t":74,"v":0.72},{"g":"L","k":"c","t":80,"v":0.72},{"g":"L","k":"c","t":84,"v":0.72},{"g":"L","k":"c","t":90,"v":0.72},{"g":"L","k":"c","t":97,"v":0.72},{"g":"L","k":"c","t":110,"v":0.72},{"g":"L","k":"c","t":113,"v":0.72},{"g":"L","k":"c","t":118,"v":0.72},{"g":"L","k":"c","t":122,"v":0.54},{"g":"L","k":"c","t":130,"v":0.54},{"g":"L","k":"c","t":322,"v":0.54},
{"g":"H","k":"c","t":31,"v":0.705},{"g":"H","k":"c","t":33,"v":0.705},{"g":"H","k":"c","t":36,"v":0.705},{"g":"H","k":"c","t":38,"v":0.705},{"g":"H","k":"c","t":40,"v":0.705},{"g":"H","k":"c","t":42,"v":0.705},{"g":"H","k":"c","t":55,"v":0.605},{"g":"H","k":"c","t":58,"v":0.605},{"g":"H","k":"c","t":62,"v":0.605},{"g":"H","k":"c","t":70,"v":0.605},{"g":"H","k":"c","t":74,"v":0.605},{"g":"H","k":"c","t":76,"v":0.605},{"g":"H","k":"c","t":80,"v":0.605},{"g":"H","k":"c","t":84,"v":0.605},{"g":"H","k":"c","t":88,"v":0.605},{"g":"H","k":"c","t":93,"v":0.605},{"g":"H","k":"c","t":98,"v":0.605},{"g":"H","k":"c","t":110,"v":0.605},{"g":"H","k":"c","t":112,"v":0.605},{"g":"H","k":"c","t":142,"v":0.605}
],
"l":[
{"g":"L","k":"m","t":0,"v":1},{"g":"L","k":"m","t":1,"v":0.97},{"g":"L","k":"m","t":1.7,"v":0.94},{"g":"L","k":"m","t":3.7,"v":0.92},{"g":"L","k":"m","t":5,"v":0.9},{"g":"L","k":"m","t":6.5,"v":0.87},{"g":"L","k":"m","t":8,"v":0.83},{"g":"L","k":"m","t":9.3,"v":0.8},{"g":"L","k":"m","t":10.7,"v":0.77},{"g":"L","k":"m","t":12,"v":0.75},{"g":"L","k":"m","t":13.5,"v":0.72},{"g":"L","k":"m","t":14.8,"v":0.68},{"g":"L","k":"m","t":16,"v":0.65},{"g":"L","k":"m","t":17.6,"v":0.62},{"g":"L","k":"m","t":19,"v":0.6},{"g":"L","k":"m","t":20.4,"v":0.57},{"g":"L","k":"m","t":23,"v":0.55},{"g":"L","k":"m","t":24.6,"v":0.53},{"g":"L","k":"m","t":26.6,"v":0.49},{"g":"L","k":"m","t":28,"v":0.46},{"g":"L","k":"m","t":29.4,"v":0.43},{"g":"L","k":"m","t":30.8,"v":0.41},{"g":"L","k":"m","t":33,"v":0.395},{"g":"L","k":"m","t":44,"v":0.38},{"g":"L","k":"m","t":47.5,"v":0.355},{"g":"L","k":"m","t":55,"v":0.33},{"g":"L","k":"m","t":56.5,"v":0.31},{"g":"L","k":"m","t":58,"v":0.3},{"g":"L","k":"m","t":82,"v":0.2},{"g":"L","k":"m","t":94,"v":0.1},{"g":"L","k":"m","t":96.7,"v":0.1},
{"g":"H","k":"m","t":0,"v":1},{"g":"H","k":"m","t":1.7,"v":0.98},{"g":"H","k":"m","t":3,"v":0.96},{"g":"H","k":"m","t":5,"v":0.94},{"g":"H","k":"m","t":9.3,"v":0.93},{"g":"H","k":"m","t":11.4,"v":0.91},{"g":"H","k":"m","t":12.8,"v":0.89},{"g":"H","k":"m","t":14,"v":0.87},{"g":"H","k":"m","t":15.5,"v":0.85},{"g":"H","k":"m","t":19.7,"v":0.82},{"g":"H","k":"m","t":21.8,"v":0.79},{"g":"H","k":"m","t":23.9,"v":0.77},{"g":"H","k":"m","t":26,"v":0.76},{"g":"H","k":"m","t":28,"v":0.74},{"g":"H","k":"m","t":29.4,"v":0.71},{"g":"H","k":"m","t":30.8,"v":0.68},{"g":"H","k":"m","t":32.2,"v":0.66},{"g":"H","k":"m","t":33.6,"v":0.645},{"g":"H","k":"m","t":35.7,"v":0.63},{"g":"H","k":"m","t":37.7,"v":0.61},{"g":"H","k":"m","t":39,"v":0.59},{"g":"H","k":"m","t":41.2,"v":0.56},{"g":"H","k":"m","t":43.3,"v":0.54},{"g":"H","k":"m","t":44.7,"v":0.5},{"g":"H","k":"m","t":103.6,"v":0.375},{"g":"H","k":"m","t":112,"v":0.25},{"g":"H","k":"m","t":139.4,"v":0.25},
{"g":"L","k":"u","t":0,"v":1},{"g":"L","k":"u","t":5,"v":1},{"g":"L","k":"u","t":10,"v":0.93},{"g":"L","k":"u","t":15,"v":0.83},{"g":"L","k":"u","t":20,"v":0.72},{"g":"L","k":"u","t":25,"v":0.63},{"g":"L","k":"u","t":30,"v":0.55},{"g":"L","k":"u","t":35,"v":0.48},{"g":"L","k":"u","t":48,"v":0.45},{"g":"L","k":"u","t":58,"v":0.4},{"g":"L","k":"u","t":82,"v":0.47},{"g":"L","k":"u","t":96.7,"v":0.47},
{"g":"L","k":"l","t":0,"v":1},{"g":"L","k":"l","t":5,"v":0.86},{"g":"L","k":"l","t":10,"v":0.72},{"g":"L","k":"l","t":15,"v":0.62},{"g":"L","k":"l","t":20,"v":0.52},{"g":"L","k":"l","t":25,"v":0.43},{"g":"L","k":"l","t":30,"v":0.36},{"g":"L","k":"l","t":35,"v":0.31},{"g":"L","k":"l","t":48,"v":0.27},{"g":"L","k":"l","t":58,"v":0.22},{"g":"L","k":"l","t":82,"v":0.08},{"g":"L","k":"l","t":94,"v":0.015},{"g":"L","k":"l","t":96.7,"v":0.015},
{"g":"H","k":"u","t":0,"v":1},{"g":"H","k":"u","t":10,"v":0.97},{"g":"H","k":"u","t":18,"v":0.93},{"g":"H","k":"u","t":28,"v":0.85},{"g":"H","k":"u","t":35,"v":0.78},{"g":"H","k":"u","t":40,"v":0.7},{"g":"H","k":"u","t":45,"v":0.62},{"g":"H","k":"u","t":103.6,"v":0.68},{"g":"H","k":"u","t":139,"v":0.68},
{"g":"H","k":"l","t":0,"v":1},{"g":"H","k":"l","t":10,"v":0.89},{"g":"H","k":"l","t":16,"v":0.8},{"g":"H","k":"l","t":24,"v":0.7},{"g":"H","k":"l","t":30,"v":0.6},{"g":"H","k":"l","t":35,"v":0.53},{"g":"H","k":"l","t":40,"v":0.45},{"g":"H","k":"l","t":45,"v":0.4},{"g":"H","k":"l","t":103.6,"v":0.21},{"g":"H","k":"l","t":112,"v":0.095},{"g":"H","k":"l","t":139,"v":0.095},
{"g":"L","k":"c","t":34,"v":0.395},{"g":"L","k":"c","t":35,"v":0.395},{"g":"L","k":"c","t":37,"v":0.395},{"g":"L","k":"c","t":39,"v":0.395},{"g":"L","k":"c","t":41,"v":0.395},{"g":"L","k":"c","t":43,"v":0.395},{"g":"L","k":"c","t":48,"v":0.355},{"g":"L","k":"c","t":50,"v":0.355},{"g":"L","k":"c","t":53,"v":0.355},{"g":"L","k":"c","t":60,"v":0.3},{"g":"L","k":"c","t":62,"v":0.3},{"g":"L","k":"c","t":64,"v":0.3},{"g":"L","k":"c","t":67,"v":0.3},{"g":"L","k":"c","t":69,"v":0.3},{"g":"L","k":"c","t":72,"v":0.3},{"g":"L","k":"c","t":75,"v":0.3},{"g":"L","k":"c","t":77,"v":0.3},{"g":"L","k":"c","t":79,"v":0.3},{"g":"L","k":"c","t":96.7,"v":0.1},
{"g":"H","k":"c","t":47,"v":0.5},{"g":"H","k":"c","t":49,"v":0.5},{"g":"H","k":"c","t":51,"v":0.5},{"g":"H","k":"c","t":52,"v":0.5},{"g":"H","k":"c","t":58,"v":0.5},{"g":"H","k":"c","t":60,"v":0.5},{"g":"H","k":"c","t":61,"v":0.5},{"g":"H","k":"c","t":73,"v":0.5},{"g":"H","k":"c","t":79,"v":0.5},{"g":"H","k":"c","t":80,"v":0.5},{"g":"H","k":"c","t":82,"v":0.5},{"g":"H","k":"c","t":91,"v":0.5},{"g":"H","k":"c","t":93,"v":0.5},{"g":"H","k":"c","t":97,"v":0.5},{"g":"H","k":"c","t":120,"v":0.25},{"g":"H","k":"c","t":139.4,"v":0.25}
],
"m":[
{"g":"L","k":"m","t":0,"v":1},{"g":"L","k":"m","t":3,"v":0.97},{"g":"L","k":"m","t":7,"v":0.9},{"g":"L","k":"m","t":11,"v":0.8},{"g":"L","k":"m","t":15.5,"v":0.7},{"g":"L","k":"m","t":19.6,"v":0.62},{"g":"L","k":"m","t":24,"v":0.55},{"g":"L","k":"m","t":28,"v":0.52},{"g":"L","k":"m","t":32,"v":0.49},{"g":"L","k":"m","t":35,"v":0.48},{"g":"L","k":"m","t":42,"v":0.4},{"g":"L","k":"m","t":49,"v":0.34},{"g":"L","k":"m","t":52,"v":0.3},{"g":"L","k":"m","t":58,"v":0.27},{"g":"L","k":"m","t":69,"v":0.25},{"g":"L","k":"m","t":73,"v":0.2},{"g":"L","k":"m","t":85.7,"v":0.1},{"g":"L","k":"m","t":125.7,"v":0.1},
{"g":"H","k":"m","t":0,"v":1},{"g":"H","k":"m","t":3,"v":0.96},{"g":"H","k":"m","t":6.5,"v":0.9},{"g":"H","k":"m","t":10.6,"v":0.8},{"g":"H","k":"m","t":14,"v":0.7},{"g":"H","k":"m","t":16.7,"v":0.62},{"g":"H","k":"m","t":19.6,"v":0.52},{"g":"H","k":"m","t":22.9,"v":0.44},{"g":"H","k":"m","t":25.7,"v":0.38},{"g":"H","k":"m","t":29.8,"v":0.35},{"g":"H","k":"m","t":36,"v":0.32},{"g":"H","k":"m","t":42,"v":0.3},{"g":"H","k":"m","t":48,"v":0.28},{"g":"H","k":"m","t":52,"v":0.26},{"g":"H","k":"m","t":68.6,"v":0.25},{"g":"H","k":"m","t":72.7,"v":0.17},{"g":"H","k":"m","t":93,"v":0.17},
{"g":"L","k":"u","t":0,"v":1},{"g":"L","k":"u","t":5,"v":1},{"g":"L","k":"u","t":15,"v":0.85},{"g":"L","k":"u","t":22,"v":0.72},{"g":"L","k":"u","t":30,"v":0.62},{"g":"L","k":"u","t":40,"v":0.58},{"g":"L","k":"u","t":50,"v":0.5},{"g":"L","k":"u","t":58,"v":0.46},{"g":"L","k":"u","t":73,"v":0.48},{"g":"L","k":"u","t":125,"v":0.48},
{"g":"L","k":"l","t":0,"v":1},{"g":"L","k":"l","t":10,"v":0.78},{"g":"L","k":"l","t":18,"v":0.58},{"g":"L","k":"l","t":25,"v":0.44},{"g":"L","k":"l","t":35,"v":0.38},{"g":"L","k":"l","t":45,"v":0.3},{"g":"L","k":"l","t":52,"v":0.22},{"g":"L","k":"l","t":60,"v":0.16},{"g":"L","k":"l","t":73,"v":0.1},{"g":"L","k":"l","t":86,"v":0.05},{"g":"L","k":"l","t":125,"v":0.05},
{"g":"H","k":"u","t":0,"v":1},{"g":"H","k":"u","t":8,"v":0.97},{"g":"H","k":"u","t":15,"v":0.82},{"g":"H","k":"u","t":22,"v":0.64},{"g":"H","k":"u","t":28,"v":0.48},{"g":"H","k":"u","t":40,"v":0.42},{"g":"H","k":"u","t":52,"v":0.36},{"g":"H","k":"u","t":73,"v":0.34},{"g":"H","k":"u","t":93,"v":0.34},
{"g":"H","k":"l","t":0,"v":1},{"g":"H","k":"l","t":8,"v":0.8},{"g":"H","k":"l","t":15,"v":0.58},{"g":"H","k":"l","t":22,"v":0.42},{"g":"H","k":"l","t":28,"v":0.3},{"g":"H","k":"l","t":40,"v":0.24},{"g":"H","k":"l","t":52,"v":0.18},{"g":"H","k":"l","t":73,"v":0.09},{"g":"H","k":"l","t":93,"v":0.09},
{"g":"L","k":"c","t":30,"v":0.52},{"g":"L","k":"c","t":33,"v":0.49},{"g":"L","k":"c","t":36,"v":0.48},{"g":"L","k":"c","t":38,"v":0.48},{"g":"L","k":"c","t":40,"v":0.48},{"g":"L","k":"c","t":61,"v":0.27},{"g":"L","k":"c","t":66,"v":0.27},{"g":"L","k":"c","t":125.7,"v":0.1},
{"g":"H","k":"c","t":30,"v":0.35},{"g":"H","k":"c","t":33,"v":0.35},{"g":"H","k":"c","t":38,"v":0.32},{"g":"H","k":"c","t":40,"v":0.32},{"g":"H","k":"c","t":44,"v":0.3},{"g":"H","k":"c","t":55,"v":0.26},{"g":"H","k":"c","t":58,"v":0.26},{"g":"H","k":"c","t":62,"v":0.26},{"g":"H","k":"c","t":76,"v":0.17},{"g":"H","k":"c","t":80,"v":0.17},{"g":"H","k":"c","t":92,"v":0.17}
],
"n":[
{"g":"L","k":"m","t":0,"v":1},{"g":"L","k":"m","t":7,"v":0.97},{"g":"L","k":"m","t":12,"v":0.93},{"g":"L","k":"m","t":16.5,"v":0.9},{"g":"L","k":"m","t":21,"v":0.87},{"g":"L","k":"m","t":26,"v":0.85},{"g":"L","k":"m","t":31,"v":0.82},{"g":"L","k":"m","t":36,"v":0.79},{"g":"L","k":"m","t":41,"v":0.76},{"g":"L","k":"m","t":46,"v":0.72},{"g":"L","k":"m","t":51,"v":0.69},{"g":"L","k":"m","t":55.5,"v":0.66},{"g":"L","k":"m","t":60,"v":0.62},{"g":"L","k":"m","t":70,"v":0.6},{"g":"L","k":"m","t":82,"v":0.56},{"g":"L","k":"m","t":92,"v":0.5},{"g":"L","k":"m","t":95,"v":0.46},{"g":"L","k":"m","t":143,"v":0.46},
{"g":"H","k":"m","t":0,"v":1},{"g":"H","k":"m","t":4.4,"v":0.97},{"g":"H","k":"m","t":9,"v":0.92},{"g":"H","k":"m","t":14,"v":0.88},{"g":"H","k":"m","t":19,"v":0.84},{"g":"H","k":"m","t":24,"v":0.81},{"g":"H","k":"m","t":29,"v":0.79},{"g":"H","k":"m","t":33.6,"v":0.77},{"g":"H","k":"m","t":41,"v":0.74},{"g":"H","k":"m","t":48,"v":0.71},{"g":"H","k":"m","t":53,"v":0.68},{"g":"H","k":"m","t":59,"v":0.64},{"g":"H","k":"m","t":65,"v":0.6},{"g":"H","k":"m","t":70,"v":0.55},{"g":"H","k":"m","t":75,"v":0.5},{"g":"H","k":"m","t":99,"v":0.375},{"g":"H","k":"m","t":151,"v":0.375},
{"g":"L","k":"u","t":0,"v":1},{"g":"L","k":"u","t":10,"v":0.98},{"g":"L","k":"u","t":25,"v":0.93},{"g":"L","k":"u","t":40,"v":0.87},{"g":"L","k":"u","t":52,"v":0.81},{"g":"L","k":"u","t":60,"v":0.76},{"g":"L","k":"u","t":75,"v":0.72},{"g":"L","k":"u","t":90,"v":0.68},{"g":"L","k":"u","t":95,"v":0.62},{"g":"L","k":"u","t":143,"v":0.62},
{"g":"L","k":"l","t":0,"v":1},{"g":"L","k":"l","t":10,"v":0.86},{"g":"L","k":"l","t":25,"v":0.79},{"g":"L","k":"l","t":40,"v":0.7},{"g":"L","k":"l","t":52,"v":0.6},{"g":"L","k":"l","t":60,"v":0.53},{"g":"L","k":"l","t":75,"v":0.47},{"g":"L","k":"l","t":90,"v":0.4},{"g":"L","k":"l","t":95,"v":0.32},{"g":"L","k":"l","t":143,"v":0.32},
{"g":"H","k":"u","t":0,"v":1},{"g":"H","k":"u","t":10,"v":0.97},{"g":"H","k":"u","t":25,"v":0.9},{"g":"H","k":"u","t":40,"v":0.84},{"g":"H","k":"u","t":53,"v":0.79},{"g":"H","k":"u","t":65,"v":0.72},{"g":"H","k":"u","t":75,"v":0.66},{"g":"H","k":"u","t":99,"v":0.63},{"g":"H","k":"u","t":151,"v":0.63},
{"g":"H","k":"l","t":0,"v":1},{"g":"H","k":"l","t":10,"v":0.84},{"g":"H","k":"l","t":25,"v":0.74},{"g":"H","k":"l","t":40,"v":0.67},{"g":"H","k":"l","t":53,"v":0.58},{"g":"H","k":"l","t":65,"v":0.5},{"g":"H","k":"l","t":75,"v":0.38},{"g":"H","k":"l","t":90,"v":0.32},{"g":"H","k":"l","t":99,"v":0.2},{"g":"H","k":"l","t":151,"v":0.2},
{"g":"L","k":"c","t":30,"v":0.85},{"g":"L","k":"c","t":35,"v":0.82},{"g":"L","k":"c","t":40,"v":0.79},{"g":"L","k":"c","t":45,"v":0.76},{"g":"L","k":"c","t":50,"v":0.72},{"g":"L","k":"c","t":58,"v":0.66},{"g":"L","k":"c","t":72,"v":0.6},{"g":"L","k":"c","t":78,"v":0.6},{"g":"L","k":"c","t":84,"v":0.56},{"g":"L","k":"c","t":100,"v":0.46},{"g":"L","k":"c","t":104,"v":0.46},{"g":"L","k":"c","t":120,"v":0.46},{"g":"L","k":"c","t":124,"v":0.46},{"g":"L","k":"c","t":128,"v":0.46},{"g":"L","k":"c","t":132,"v":0.46},{"g":"L","k":"c","t":135,"v":0.46},{"g":"L","k":"c","t":140,"v":0.46},{"g":"L","k":"c","t":143,"v":0.46},
{"g":"H","k":"c","t":30,"v":0.79},{"g":"H","k":"c","t":34,"v":0.77},{"g":"H","k":"c","t":38,"v":0.77},{"g":"H","k":"c","t":44,"v":0.74},{"g":"H","k":"c","t":50,"v":0.71},{"g":"H","k":"c","t":60,"v":0.64},{"g":"H","k":"c","t":76,"v":0.5},{"g":"H","k":"c","t":80,"v":0.5},{"g":"H","k":"c","t":84,"v":0.5},{"g":"H","k":"c","t":88,"v":0.5},{"g":"H","k":"c","t":138,"v":0.375},{"g":"H","k":"c","t":151,"v":0.375}
]
},
"spacing":4,
"resolve":{"scale":{"color":"independent"},"legend":{"color":"independent"}},
"vconcat":[
{"hconcat":[
{"title":{"text":"a","anchor":"start","frame":"bounds","fontSize":28,"fontWeight":"bold","color":"#000000","offset":-46,"baseline":"alphabetic"},"resolve":{"scale":{"color":"independent"},"legend":{"color":"independent"}},"vconcat":[{"width":347,"height":326,"title":"Overall Survival","data":{"name":"a"},"encoding":{"x":{"field":"t","type":"quantitative","scale":{"domain":[0,128],"nice":false},"axis":{"values":[0,20,40,60,80,100,120],"title":"Months"}},"y":{"field":"v","type":"quantitative","scale":{"domain":[-0.04,1.04],"nice":false,"zero":false},"axis":{"values":[0,0.2,0.4,0.6,0.8,1],"format":".1f","title":"Percent survival"}}},"layer":[
{"transform":[{"filter":"datum.k=='u'||datum.k=='l'"}],"mark":{"type":"line","interpolate":"step-after","strokeDash":[1.5,2.5],"strokeWidth":1,"strokeOpacity":0.6},"encoding":{"stroke":{"condition":{"test":"datum.g=='L'","value":"#1f1fe0"},"value":"#e81f1f"},"detail":[{"field":"g"},{"field":"k"}]}},
{"transform":[{"filter":"datum.k=='m'"}],"mark":{"type":"line","interpolate":"step-after","strokeWidth":1.8},"encoding":{"color":{"field":"g","type":"nominal","scale":{"domain":["L","H"],"range":["#1f1fe0","#e81f1f"]},"legend":{"title":["Logrank p=0.93","HR(high)=1","p(HR)=0.93","n(high)=180","n(low)=180"],"labelExpr":"datum.value=='L'?'Low CXCL8 Group':'High CXCL8 Group'"}}}},
{"transform":[{"filter":"datum.k=='c'"}],"mark":{"type":"point","shape":"M-1,0H1M0,-1V1","filled":false,"size":60,"strokeWidth":1.2,"opacity":1},"encoding":{"stroke":{"condition":{"test":"datum.g=='L'","value":"#1f1fe0"},"value":"#e81f1f"}}}
]}]},
{"title":{"text":"b","anchor":"start","frame":"bounds","fontSize":28,"fontWeight":"bold","color":"#000000","offset":-46,"baseline":"alphabetic"},"resolve":{"scale":{"color":"independent"},"legend":{"color":"independent"}},"vconcat":[{"width":347,"height":326,"title":"Overall Survival","data":{"name":"b"},"encoding":{"x":{"field":"t","type":"quantitative","scale":{"domain":[0,157],"nice":false},"axis":{"values":[0,50,100,150],"title":"Months"}},"y":{"field":"v","type":"quantitative","scale":{"domain":[-0.04,1.04],"nice":false,"zero":false},"axis":{"values":[0,0.2,0.4,0.6,0.8,1],"format":".1f","title":"Percent survival"}}},"layer":[
{"transform":[{"filter":"datum.k=='u'||datum.k=='l'"}],"mark":{"type":"line","interpolate":"step-after","strokeDash":[1.5,2.5],"strokeWidth":1,"strokeOpacity":0.6},"encoding":{"stroke":{"condition":{"test":"datum.g=='L'","value":"#1f1fe0"},"value":"#e81f1f"},"detail":[{"field":"g"},{"field":"k"}]}},
{"transform":[{"filter":"datum.k=='m'"}],"mark":{"type":"line","interpolate":"step-after","strokeWidth":1.8},"encoding":{"color":{"field":"g","type":"nominal","scale":{"domain":["L","H"],"range":["#1f1fe0","#e81f1f"]},"legend":{"title":["Logrank p=0.038","HR(high)=0.63","p(HR)=0.04","n(high)=181","n(low)=181"],"labelExpr":"datum.value=='L'?'Low IL1B Group':'High IL1B Group'"}}}},
{"transform":[{"filter":"datum.k=='c'"}],"mark":{"type":"point","shape":"M-1,0H1M0,-1V1","filled":false,"size":60,"strokeWidth":1.2,"opacity":1},"encoding":{"stroke":{"condition":{"test":"datum.g=='L'","value":"#1f1fe0"},"value":"#e81f1f"}}}
]}]},
{"title":{"text":"c","anchor":"start","frame":"bounds","fontSize":28,"fontWeight":"bold","color":"#000000","offset":-46,"baseline":"alphabetic"},"resolve":{"scale":{"color":"independent"},"legend":{"color":"independent"}},"vconcat":[{"width":347,"height":326,"title":"Overall Survival","data":{"name":"c"},"encoding":{"x":{"field":"t","type":"quantitative","scale":{"domain":[0,157],"nice":false},"axis":{"values":[0,50,100,150],"title":"Months"}},"y":{"field":"v","type":"quantitative","scale":{"domain":[-0.04,1.04],"nice":false,"zero":false},"axis":{"values":[0,0.2,0.4,0.6,0.8,1],"format":".1f","title":"Percent survival"}}},"layer":[
{"transform":[{"filter":"datum.k=='u'||datum.k=='l'"}],"mark":{"type":"line","interpolate":"step-after","strokeDash":[1.5,2.5],"strokeWidth":1,"strokeOpacity":0.6},"encoding":{"stroke":{"condition":{"test":"datum.g=='L'","value":"#1f1fe0"},"value":"#e81f1f"},"detail":[{"field":"g"},{"field":"k"}]}},
{"transform":[{"filter":"datum.k=='m'"}],"mark":{"type":"line","interpolate":"step-after","strokeWidth":1.8},"encoding":{"color":{"field":"g","type":"nominal","scale":{"domain":["L","H"],"range":["#1f1fe0","#e81f1f"]},"legend":{"title":["Logrank p=0.19","HR(high)=0.75","p(HR)=0.19","n(high)=180","n(low)=180"],"labelExpr":"datum.value=='L'?'Low CXCR1 Group':'High CXCR1 Group'"}}}},
{"transform":[{"filter":"datum.k=='c'"}],"mark":{"type":"point","shape":"M-1,0H1M0,-1V1","filled":false,"size":60,"strokeWidth":1.2,"opacity":1},"encoding":{"stroke":{"condition":{"test":"datum.g=='L'","value":"#1f1fe0"},"value":"#e81f1f"}}}
]}]},
{"title":{"text":"d","anchor":"start","frame":"bounds","fontSize":28,"fontWeight":"bold","color":"#000000","offset":-46,"baseline":"alphabetic"},"resolve":{"scale":{"color":"independent"},"legend":{"color":"independent"}},"vconcat":[{"width":347,"height":326,"title":"Overall Survival","data":{"name":"d"},"encoding":{"x":{"field":"t","type":"quantitative","scale":{"domain":[0,156],"nice":false},"axis":{"values":[0,50,100,150],"title":"Months"}},"y":{"field":"v","type":"quantitative","scale":{"domain":[-0.04,1.04],"nice":false,"zero":false},"axis":{"values":[0,0.2,0.4,0.6,0.8,1],"format":".1f","title":"Percent survival"}}},"layer":[
{"transform":[{"filter":"datum.k=='u'||datum.k=='l'"}],"mark":{"type":"line","interpolate":"step-after","strokeDash":[1.5,2.5],"strokeWidth":1,"strokeOpacity":0.6},"encoding":{"stroke":{"condition":{"test":"datum.g=='L'","value":"#1f1fe0"},"value":"#e81f1f"},"detail":[{"field":"g"},{"field":"k"}]}},
{"transform":[{"filter":"datum.k=='m'"}],"mark":{"type":"line","interpolate":"step-after","strokeWidth":1.8},"encoding":{"color":{"field":"g","type":"nominal","scale":{"domain":["L","H"],"range":["#1f1fe0","#e81f1f"]},"legend":{"title":["Logrank p=0.99","HR(high)=1","p(HR)=0.99","n(high)=180","n(low)=180"],"labelExpr":"datum.value=='L'?'Low S100A12 Group':'High S100A12 Group'"}}}},
{"transform":[{"filter":"datum.k=='c'"}],"mark":{"type":"point","shape":"M-1,0H1M0,-1V1","filled":false,"size":60,"strokeWidth":1.2,"opacity":1},"encoding":{"stroke":{"condition":{"test":"datum.g=='L'","value":"#1f1fe0"},"value":"#e81f1f"}}}
]}]}
],"spacing":19,"resolve":{"scale":{"color":"independent"},"legend":{"color":"independent"}}},
{"hconcat":[
{"title":{"text":"e","anchor":"start","frame":"bounds","fontSize":28,"fontWeight":"bold","color":"#000000","offset":-46,"baseline":"alphabetic"},"resolve":{"scale":{"color":"independent"},"legend":{"color":"independent"}},"vconcat":[{"width":347,"height":326,"title":"Overall Survival","data":{"name":"e"},"encoding":{"x":{"field":"t","type":"quantitative","scale":{"domain":[0,157],"nice":false},"axis":{"values":[0,50,100,150],"title":"Months"}},"y":{"field":"v","type":"quantitative","scale":{"domain":[-0.04,1.04],"nice":false,"zero":false},"axis":{"values":[0,0.2,0.4,0.6,0.8,1],"format":".1f","title":"Percent survival"}}},"layer":[
{"transform":[{"filter":"datum.k=='u'||datum.k=='l'"}],"mark":{"type":"line","interpolate":"step-after","strokeDash":[1.5,2.5],"strokeWidth":1,"strokeOpacity":0.6},"encoding":{"stroke":{"condition":{"test":"datum.g=='L'","value":"#1f1fe0"},"value":"#e81f1f"},"detail":[{"field":"g"},{"field":"k"}]}},
{"transform":[{"filter":"datum.k=='m'"}],"mark":{"type":"line","interpolate":"step-after","strokeWidth":1.8},"encoding":{"color":{"field":"g","type":"nominal","scale":{"domain":["L","H"],"range":["#1f1fe0","#e81f1f"]},"legend":{"title":["Logrank p=0.61","HR(high)=0.89","p(HR)=0.61","n(high)=181","n(low)=181"],"labelExpr":"datum.value=='L'?'Low FPR1 Group':'High FPR1 Group'"}}}},
{"transform":[{"filter":"datum.k=='c'"}],"mark":{"type":"point","shape":"M-1,0H1M0,-1V1","filled":false,"size":60,"strokeWidth":1.2,"opacity":1},"encoding":{"stroke":{"condition":{"test":"datum.g=='L'","value":"#1f1fe0"},"value":"#e81f1f"}}}
]}]},
{"title":{"text":"f","anchor":"start","frame":"bounds","fontSize":28,"fontWeight":"bold","color":"#000000","offset":-46,"baseline":"alphabetic"},"resolve":{"scale":{"color":"independent"},"legend":{"color":"independent"}},"vconcat":[{"width":347,"height":326,"title":"Overall Survival","data":{"name":"f"},"encoding":{"x":{"field":"t","type":"quantitative","scale":{"domain":[0,157],"nice":false},"axis":{"values":[0,50,100,150],"title":"Months"}},"y":{"field":"v","type":"quantitative","scale":{"domain":[-0.04,1.04],"nice":false,"zero":false},"axis":{"values":[0,0.2,0.4,0.6,0.8,1],"format":".1f","title":"Percent survival"}}},"layer":[
{"transform":[{"filter":"datum.k=='u'||datum.k=='l'"}],"mark":{"type":"line","interpolate":"step-after","strokeDash":[1.5,2.5],"strokeWidth":1,"strokeOpacity":0.6},"encoding":{"stroke":{"condition":{"test":"datum.g=='L'","value":"#1f1fe0"},"value":"#e81f1f"},"detail":[{"field":"g"},{"field":"k"}]}},
{"transform":[{"filter":"datum.k=='m'"}],"mark":{"type":"line","interpolate":"step-after","strokeWidth":1.8},"encoding":{"color":{"field":"g","type":"nominal","scale":{"domain":["L","H"],"range":["#1f1fe0","#e81f1f"]},"legend":{"title":["Logrank p=0.8","HR(high)=1.1","p(HR)=0.8","n(high)=181","n(low)=181"],"labelExpr":"datum.value=='L'?'Low S100A8 Group':'High S100A8 Group'"}}}},
{"transform":[{"filter":"datum.k=='c'"}],"mark":{"type":"point","shape":"M-1,0H1M0,-1V1","filled":false,"size":60,"strokeWidth":1.2,"opacity":1},"encoding":{"stroke":{"condition":{"test":"datum.g=='L'","value":"#1f1fe0"},"value":"#e81f1f"}}}
]}]},
{"title":{"text":"g","anchor":"start","frame":"bounds","fontSize":28,"fontWeight":"bold","color":"#000000","offset":-46,"baseline":"alphabetic"},"resolve":{"scale":{"color":"independent"},"legend":{"color":"independent"}},"vconcat":[{"width":347,"height":326,"title":"Overall Survival","data":{"name":"g"},"encoding":{"x":{"field":"t","type":"quantitative","scale":{"domain":[0,157],"nice":false},"axis":{"values":[0,50,100,150],"title":"Months"}},"y":{"field":"v","type":"quantitative","scale":{"domain":[-0.04,1.04],"nice":false,"zero":false},"axis":{"values":[0,0.2,0.4,0.6,0.8,1],"format":".1f","title":"Percent survival"}}},"layer":[
{"transform":[{"filter":"datum.k=='u'||datum.k=='l'"}],"mark":{"type":"line","interpolate":"step-after","strokeDash":[1.5,2.5],"strokeWidth":1,"strokeOpacity":0.6},"encoding":{"stroke":{"condition":{"test":"datum.g=='L'","value":"#1f1fe0"},"value":"#e81f1f"},"detail":[{"field":"g"},{"field":"k"}]}},
{"transform":[{"filter":"datum.k=='m'"}],"mark":{"type":"line","interpolate":"step-after","strokeWidth":1.8},"encoding":{"color":{"field":"g","type":"nominal","scale":{"domain":["L","H"],"range":["#1f1fe0","#e81f1f"]},"legend":{"title":["Logrank p=0.12","HR(high)=1.4","p(HR)=0.12","n(high)=181","n(low)=181"],"labelExpr":"datum.value=='L'?'Low FN1 Group':'High FN1 Group'"}}}},
{"transform":[{"filter":"datum.k=='c'"}],"mark":{"type":"point","shape":"M-1,0H1M0,-1V1","filled":false,"size":60,"strokeWidth":1.2,"opacity":1},"encoding":{"stroke":{"condition":{"test":"datum.g=='L'","value":"#1f1fe0"},"value":"#e81f1f"}}}
]}]},
{"title":{"text":"h","anchor":"start","frame":"bounds","fontSize":28,"fontWeight":"bold","color":"#000000","offset":-46,"baseline":"alphabetic"},"resolve":{"scale":{"color":"independent"},"legend":{"color":"independent"}},"vconcat":[{"width":347,"height":326,"title":"Overall Survival","data":{"name":"h"},"encoding":{"x":{"field":"t","type":"quantitative","scale":{"domain":[0,157],"nice":false},"axis":{"values":[0,50,100,150],"title":"Months"}},"y":{"field":"v","type":"quantitative","scale":{"domain":[-0.04,1.04],"nice":false,"zero":false},"axis":{"values":[0,0.2,0.4,0.6,0.8,1],"format":".1f","title":"Percent survival"}}},"layer":[
{"transform":[{"filter":"datum.k=='u'||datum.k=='l'"}],"mark":{"type":"line","interpolate":"step-after","strokeDash":[1.5,2.5],"strokeWidth":1,"strokeOpacity":0.6},"encoding":{"stroke":{"condition":{"test":"datum.g=='L'","value":"#1f1fe0"},"value":"#e81f1f"},"detail":[{"field":"g"},{"field":"k"}]}},
{"transform":[{"filter":"datum.k=='m'"}],"mark":{"type":"line","interpolate":"step-after","strokeWidth":1.8},"encoding":{"color":{"field":"g","type":"nominal","scale":{"domain":["L","H"],"range":["#1f1fe0","#e81f1f"]},"legend":{"title":["Logrank p=0.4","HR(high)=1.2","p(HR)=0.4","n(high)=181","n(low)=181"],"labelExpr":"datum.value=='L'?'Low CXCL12 Group':'High CXCL12 Group'"}}}},
{"transform":[{"filter":"datum.k=='c'"}],"mark":{"type":"point","shape":"M-1,0H1M0,-1V1","filled":false,"size":60,"strokeWidth":1.2,"opacity":1},"encoding":{"stroke":{"condition":{"test":"datum.g=='L'","value":"#1f1fe0"},"value":"#e81f1f"}}}
]}]}
],"spacing":19,"resolve":{"scale":{"color":"independent"},"legend":{"color":"independent"}}},
{"hconcat":[
{"title":{"text":"i","anchor":"start","frame":"bounds","fontSize":28,"fontWeight":"bold","color":"#000000","offset":-46,"baseline":"alphabetic"},"resolve":{"scale":{"color":"independent"},"legend":{"color":"independent"}},"vconcat":[{"width":347,"height":326,"title":"Overall Survival","data":{"name":"i"},"encoding":{"x":{"field":"t","type":"quantitative","scale":{"domain":[0,157],"nice":false},"axis":{"values":[0,50,100,150],"title":"Months"}},"y":{"field":"v","type":"quantitative","scale":{"domain":[-0.04,1.04],"nice":false,"zero":false},"axis":{"values":[0,0.2,0.4,0.6,0.8,1],"format":".1f","title":"Percent survival"}}},"layer":[
{"transform":[{"filter":"datum.k=='u'||datum.k=='l'"}],"mark":{"type":"line","interpolate":"step-after","strokeDash":[1.5,2.5],"strokeWidth":1,"strokeOpacity":0.6},"encoding":{"stroke":{"condition":{"test":"datum.g=='L'","value":"#1f1fe0"},"value":"#e81f1f"},"detail":[{"field":"g"},{"field":"k"}]}},
{"transform":[{"filter":"datum.k=='m'"}],"mark":{"type":"line","interpolate":"step-after","strokeWidth":1.8},"encoding":{"color":{"field":"g","type":"nominal","scale":{"domain":["L","H"],"range":["#1f1fe0","#e81f1f"]},"legend":{"title":["Logrank p=0.51","HR(high)=0.87","p(HR)=0.51","n(high)=181","n(low)=181"],"labelExpr":"datum.value=='L'?'Low MMP1 Group':'High MMP1 Group'"}}}},
{"transform":[{"filter":"datum.k=='c'"}],"mark":{"type":"point","shape":"M-1,0H1M0,-1V1","filled":false,"size":60,"strokeWidth":1.2,"opacity":1},"encoding":{"stroke":{"condition":{"test":"datum.g=='L'","value":"#1f1fe0"},"value":"#e81f1f"}}}
]}]},
{"title":{"text":"j","anchor":"start","frame":"bounds","fontSize":28,"fontWeight":"bold","color":"#000000","offset":-46,"baseline":"alphabetic"},"resolve":{"scale":{"color":"independent"},"legend":{"color":"independent"}},"vconcat":[{"width":347,"height":326,"title":"Overall Survival","data":{"name":"j"},"encoding":{"x":{"field":"t","type":"quantitative","scale":{"domain":[0,157],"nice":false},"axis":{"values":[0,50,100,150],"title":"Months"}},"y":{"field":"v","type":"quantitative","scale":{"domain":[-0.04,1.04],"nice":false,"zero":false},"axis":{"values":[0,0.2,0.4,0.6,0.8,1],"format":".1f","title":"Percent survival"}}},"layer":[
{"transform":[{"filter":"datum.k=='u'||datum.k=='l'"}],"mark":{"type":"line","interpolate":"step-after","strokeDash":[1.5,2.5],"strokeWidth":1,"strokeOpacity":0.6},"encoding":{"stroke":{"condition":{"test":"datum.g=='L'","value":"#1f1fe0"},"value":"#e81f1f"},"detail":[{"field":"g"},{"field":"k"}]}},
{"transform":[{"filter":"datum.k=='m'"}],"mark":{"type":"line","interpolate":"step-after","strokeWidth":1.8},"encoding":{"color":{"field":"g","type":"nominal","scale":{"domain":["L","H"],"range":["#1f1fe0","#e81f1f"]},"legend":{"title":["Logrank p=0.94","HR(high)=1","p(HR)=0.94","n(high)=181","n(low)=181"],"labelExpr":"datum.value=='L'?'Low S100A9 Group':'High S100A9 Group'"}}}},
{"transform":[{"filter":"datum.k=='c'"}],"mark":{"type":"point","shape":"M-1,0H1M0,-1V1","filled":false,"size":60,"strokeWidth":1.2,"opacity":1},"encoding":{"stroke":{"condition":{"test":"datum.g=='L'","value":"#1f1fe0"},"value":"#e81f1f"}}}
]}]},
{"title":{"text":"k","anchor":"start","frame":"bounds","fontSize":28,"fontWeight":"bold","color":"#000000","offset":-46,"baseline":"alphabetic"},"resolve":{"scale":{"color":"independent"},"legend":{"color":"independent"}},"vconcat":[{"width":347,"height":326,"title":"Overall Survival","data":{"name":"k"},"encoding":{"x":{"field":"t","type":"quantitative","scale":{"domain":[0,334],"nice":false},"axis":{"values":[0,50,100,150,200,250,300],"title":"Months"}},"y":{"field":"v","type":"quantitative","scale":{"domain":[-0.04,1.04],"nice":false,"zero":false},"axis":{"values":[0,0.2,0.4,0.6,0.8,1],"format":".1f","title":"Percent survival"}}},"layer":[
{"transform":[{"filter":"datum.k=='u'||datum.k=='l'"}],"mark":{"type":"line","interpolate":"step-after","strokeDash":[1.5,2.5],"strokeWidth":1,"strokeOpacity":0.6},"encoding":{"stroke":{"condition":{"test":"datum.g=='L'","value":"#1f1fe0"},"value":"#e81f1f"},"detail":[{"field":"g"},{"field":"k"}]}},
{"transform":[{"filter":"datum.k=='m'"}],"mark":{"type":"line","interpolate":"step-after","strokeWidth":1.8},"encoding":{"color":{"field":"g","type":"nominal","scale":{"domain":["L","H"],"range":["#1f1fe0","#e81f1f"]},"legend":{"title":["Logrank p=0.068","HR(high)=1.5","p(HR)=0.07","n(high)=180","n(low)=177"],"labelExpr":"datum.value=='L'?'Low KCNE5 Group':'High KCNE5 Group'"}}}},
{"transform":[{"filter":"datum.k=='c'"}],"mark":{"type":"point","shape":"M-1,0H1M0,-1V1","filled":false,"size":60,"strokeWidth":1.2,"opacity":1},"encoding":{"stroke":{"condition":{"test":"datum.g=='L'","value":"#1f1fe0"},"value":"#e81f1f"}}}
]}]},
{"title":{"text":"l","anchor":"start","frame":"bounds","fontSize":28,"fontWeight":"bold","color":"#000000","offset":-46,"baseline":"alphabetic"},"resolve":{"scale":{"color":"independent"},"legend":{"color":"independent"}},"vconcat":[{"width":347,"height":326,"title":"Overall Survival","data":{"name":"l"},"encoding":{"x":{"field":"t","type":"quantitative","scale":{"domain":[0,144.6],"nice":false},"axis":{"values":[0,20,40,60,80,100,120,140],"title":"Months"}},"y":{"field":"v","type":"quantitative","scale":{"domain":[-0.04,1.04],"nice":false,"zero":false},"axis":{"values":[0,0.2,0.4,0.6,0.8,1],"format":".1f","title":"Percent survival"}}},"layer":[
{"transform":[{"filter":"datum.k=='u'||datum.k=='l'"}],"mark":{"type":"line","interpolate":"step-after","strokeDash":[1.5,2.5],"strokeWidth":1,"strokeOpacity":0.6},"encoding":{"stroke":{"condition":{"test":"datum.g=='L'","value":"#1f1fe0"},"value":"#e81f1f"},"detail":[{"field":"g"},{"field":"k"}]}},
{"transform":[{"filter":"datum.k=='m'"}],"mark":{"type":"line","interpolate":"step-after","strokeWidth":1.8},"encoding":{"color":{"field":"g","type":"nominal","scale":{"domain":["L","H"],"range":["#1f1fe0","#e81f1f"]},"legend":{"title":["Logrank p=7.4e−06","HR(high)=0.48","p(HR)=1.2e−05","n(high)=181","n(low)=181"],"labelExpr":"datum.value=='L'?'Low DDAH1 Group':'High DDAH1 Group'"}}}},
{"transform":[{"filter":"datum.k=='c'"}],"mark":{"type":"point","shape":"M-1,0H1M0,-1V1","filled":false,"size":60,"strokeWidth":1.2,"opacity":1},"encoding":{"stroke":{"condition":{"test":"datum.g=='L'","value":"#1f1fe0"},"value":"#e81f1f"}}}
]}]}
],"spacing":19,"resolve":{"scale":{"color":"independent"},"legend":{"color":"independent"}}},
{"hconcat":[
{"title":{"text":"m","anchor":"start","frame":"bounds","fontSize":28,"fontWeight":"bold","color":"#000000","offset":-46,"baseline":"alphabetic"},"resolve":{"scale":{"color":"independent"},"legend":{"color":"independent"}},"vconcat":[{"width":347,"height":326,"title":"Overall Survival","data":{"name":"m"},"encoding":{"x":{"field":"t","type":"quantitative","scale":{"domain":[0,128],"nice":false},"axis":{"values":[0,20,40,60,80,100,120],"title":"Months"}},"y":{"field":"v","type":"quantitative","scale":{"domain":[-0.04,1.04],"nice":false,"zero":false},"axis":{"values":[0,0.2,0.4,0.6,0.8,1],"format":".1f","title":"Percent survival"}}},"layer":[
{"transform":[{"filter":"datum.k=='u'||datum.k=='l'"}],"mark":{"type":"line","interpolate":"step-after","strokeDash":[1.5,2.5],"strokeWidth":1,"strokeOpacity":0.6},"encoding":{"stroke":{"condition":{"test":"datum.g=='L'","value":"#1f1fe0"},"value":"#e81f1f"},"detail":[{"field":"g"},{"field":"k"}]}},
{"transform":[{"filter":"datum.k=='m'"}],"mark":{"type":"line","interpolate":"step-after","strokeWidth":1.8},"encoding":{"color":{"field":"g","type":"nominal","scale":{"domain":["L","H"],"range":["#1f1fe0","#e81f1f"]},"legend":{"title":["Logrank p=0.082","HR(high)=1.3","p(HR)=0.082","n(high)=180","n(low)=180"],"labelExpr":"datum.value=='L'?'Low TM4SF4 Group':'High TM4SF4 Group'"}}}},
{"transform":[{"filter":"datum.k=='c'"}],"mark":{"type":"point","shape":"M-1,0H1M0,-1V1","filled":false,"size":60,"strokeWidth":1.2,"opacity":1},"encoding":{"stroke":{"condition":{"test":"datum.g=='L'","value":"#1f1fe0"},"value":"#e81f1f"}}}
]}]},
{"title":{"text":"n","anchor":"start","frame":"bounds","fontSize":28,"fontWeight":"bold","color":"#000000","offset":-46,"baseline":"alphabetic"},"resolve":{"scale":{"color":"independent"},"legend":{"color":"independent"}},"vconcat":[{"width":347,"height":326,"title":"Overall Survival","data":{"name":"n"},"encoding":{"x":{"field":"t","type":"quantitative","scale":{"domain":[0,157],"nice":false},"axis":{"values":[0,50,100,150],"title":"Months"}},"y":{"field":"v","type":"quantitative","scale":{"domain":[-0.04,1.04],"nice":false,"zero":false},"axis":{"values":[0,0.2,0.4,0.6,0.8,1],"format":".1f","title":"Percent survival"}}},"layer":[
{"transform":[{"filter":"datum.k=='u'||datum.k=='l'"}],"mark":{"type":"line","interpolate":"step-after","strokeDash":[1.5,2.5],"strokeWidth":1,"strokeOpacity":0.6},"encoding":{"stroke":{"condition":{"test":"datum.g=='L'","value":"#1f1fe0"},"value":"#e81f1f"},"detail":[{"field":"g"},{"field":"k"}]}},
{"transform":[{"filter":"datum.k=='m'"}],"mark":{"type":"line","interpolate":"step-after","strokeWidth":1.8},"encoding":{"color":{"field":"g","type":"nominal","scale":{"domain":["L","H"],"range":["#1f1fe0","#e81f1f"]},"legend":{"title":["Logrank p=0.39","HR(high)=1.2","p(HR)=0.39","n(high)=179","n(low)=181"],"labelExpr":"datum.value=='L'?'Low DKK2 Group':'High DKK2 Group'"}}}},
{"transform":[{"filter":"datum.k=='c'"}],"mark":{"type":"point","shape":"M-1,0H1M0,-1V1","filled":false,"size":60,"strokeWidth":1.2,"opacity":1},"encoding":{"stroke":{"condition":{"test":"datum.g=='L'","value":"#1f1fe0"},"value":"#e81f1f"}}}
]}]}
],"spacing":19,"resolve":{"scale":{"color":"independent"},"legend":{"color":"independent"}}}
],
"config":{
"font":"Liberation Sans",
"view":{"stroke":"#404040","strokeWidth":1.2},
"title":{"fontSize":21,"fontWeight":"normal","color":"#1a1a1a","offset":4,"baseline":"alphabetic","font":"Liberation Sans"},
"axis":{"grid":false,"domain":false,"tickColor":"#333333","tickSize":7,"tickWidth":1,"labelFontSize":14,"labelColor":"#222222","titleFontSize":19,"titleFontWeight":"normal","titleColor":"#1a1a1a","labelFlush":false,"labelOverlap":false,"labelFont":"Liberation Sans","titleFont":"Liberation Sans"},
"axisX":{"labelPadding":14,"titlePadding":5,"minExtent":36,"maxExtent":36},
"axisY":{"labelAngle":270,"labelAlign":"center","labelBaseline":"bottom","labelPadding":12,"titlePadding":9,"minExtent":34,"maxExtent":34},
"legend":{"orient":"top-right","offset":6,"padding":2,"titleOrient":"bottom","titleAnchor":"end","titleAlign":"right","titleFontWeight":"normal","titleFontSize":14,"titleLineHeight":17,"titlePadding":2,"titleColor":"#1a1a1a","titleLimit":400,"titleFont":"Liberation Sans","labelFont":"Liberation Sans","labelFontSize":14,"labelColor":"#1a1a1a","labelLimit":400,"labelOffset":6,"symbolType":"stroke","symbolSize":784,"symbolStrokeWidth":2,"symbolDash":[],"symbolOpacity":1,"rowPadding":0,"clipHeight":15}
}
}
